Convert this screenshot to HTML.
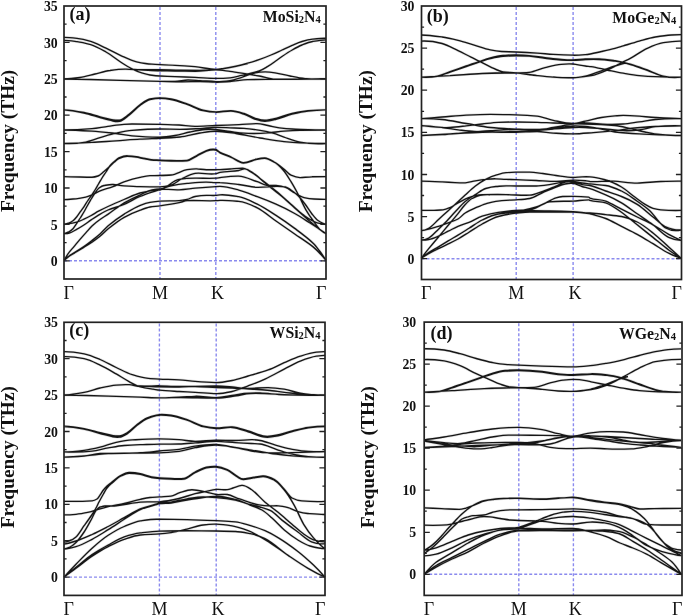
<!DOCTYPE html>
<html><head><meta charset="utf-8"><style>
html,body{margin:0;padding:0;background:#fff;}
svg{display:block;will-change:transform;}
text{font-family:"Liberation Serif",serif;fill:#111;opacity:0.999;}
.tl{font-weight:bold;font-size:13.8px;text-anchor:end;}
.xl{font-size:18px;}
.pl{font-weight:bold;font-size:18px;}
.ml{font-weight:bold;font-size:15.8px;}
.sub{font-size:10.5px;}
.yl{font-weight:bold;font-size:19.4px;}
</style></head><body>
<svg width="685" height="616" viewBox="0 0 685 616">
<rect width="685" height="616" fill="#fff"/>
<g>
<line x1="64" y1="260.8" x2="326" y2="260.8" stroke="#8a8aee" stroke-width="1.4" stroke-dasharray="3,2" fill="none"/>
<line x1="160" y1="6" x2="160" y2="279" stroke="#8a8aee" stroke-width="1.4" stroke-dasharray="3,2" fill="none" stroke-dashoffset="-1.1"/>
<line x1="215.8" y1="6" x2="215.8" y2="279" stroke="#8a8aee" stroke-width="1.4" stroke-dasharray="3,2" fill="none" stroke-dashoffset="-1.1"/>
<path d="M64.0,37.4C68.3,37.4 72.7,37.9 77.0,38.4C81.6,38.9 86.1,40.0 90.7,41.3C95.8,42.8 100.9,45.8 106.0,48.2C111.1,50.6 116.2,53.5 121.3,55.8C126.4,58.1 131.5,60.7 136.6,61.8C141.7,62.9 146.9,63.9 152.0,64.2C154.7,64.4 157.3,64.5 160.0,64.6C165.0,64.8 170.0,65.0 175.0,65.3C181.7,65.6 188.3,66.1 195.0,66.7C201.9,67.3 208.9,69.2 215.8,69.4C218.5,69.5 221.3,68.8 224.0,68.4C228.0,67.8 232.0,67.0 236.0,66.1C239.9,65.3 243.7,64.3 247.6,63.2C251.4,62.2 255.2,61.0 259.0,59.7C263.0,58.3 267.0,56.7 271.0,55.0C274.7,53.5 278.3,51.7 282.0,50.0C285.4,48.4 288.8,46.7 292.2,45.3C295.5,43.9 298.7,42.4 302.0,41.5C305.5,40.5 309.1,39.6 312.6,39.2C317.1,38.7 321.5,38.2 326.0,38.2 M64.0,40.4C68.3,40.5 72.7,41.1 77.0,41.6C81.6,42.1 86.1,43.3 90.7,44.6C95.8,46.1 100.9,49.1 106.0,52.0C111.1,54.9 116.2,59.2 121.3,62.5C124.7,64.7 128.1,66.9 131.5,68.6C134.9,70.3 138.3,71.9 141.7,72.9C144.5,73.8 147.2,74.6 150.0,75.0C153.3,75.4 156.7,75.8 160.0,76.0C165.0,76.2 170.0,76.4 175.0,76.6C181.7,76.9 188.3,77.1 195.0,77.4C201.9,77.7 208.9,78.2 215.8,78.4C220.5,78.6 225.3,78.2 230.0,77.8C233.9,77.5 237.8,76.2 241.7,75.4C244.5,74.8 247.2,74.2 250.0,73.5C253.1,72.8 256.1,72.0 259.2,71.0C261.9,70.1 264.7,68.3 267.4,66.7C269.9,65.2 272.5,63.3 275.0,61.5C277.3,59.9 279.7,58.1 282.0,56.5C285.4,54.2 288.8,51.9 292.2,50.0C295.5,48.1 298.7,46.3 302.0,45.0C305.5,43.6 309.1,42.1 312.6,41.5C317.1,40.7 321.5,39.9 326.0,39.8 M64.0,79.0C69.3,78.9 74.7,78.3 80.0,77.5C85.0,76.7 90.0,75.2 95.0,74.0C100.0,72.8 105.0,71.2 110.0,70.5C115.3,69.7 120.7,68.9 126.0,69.1C130.7,69.2 135.3,69.6 140.0,69.8C146.7,70.1 153.3,70.6 160.0,70.8C165.0,70.9 170.0,70.9 175.0,71.0C181.7,71.1 188.3,71.3 195.0,71.4C201.9,71.5 208.9,69.8 215.8,69.8C220.5,69.8 225.3,70.8 230.0,71.4C233.9,71.9 237.8,72.5 241.7,73.1C247.5,74.0 253.4,75.0 259.2,76.0C264.5,76.9 269.7,79.2 275.0,79.2C281.7,79.3 288.3,79.2 295.0,79.2C305.3,79.1 315.7,79.1 326.0,79.0 M110.0,70.5C115.3,69.7 120.7,69.0 126.0,69.1C130.7,69.2 135.3,69.6 140.0,69.6C146.7,69.7 153.3,69.5 160.0,69.6C166.7,69.7 173.3,70.1 180.0,70.2C186.7,70.3 193.3,70.3 200.0,70.3C205.3,70.3 210.5,69.9 215.8,69.6C218.5,69.4 221.3,69.1 224.0,68.7C228.0,68.1 232.0,67.3 236.0,66.4C239.9,65.6 243.7,64.6 247.6,63.6 M64.0,79.0C72.7,79.1 81.3,79.3 90.0,79.5C100.0,79.7 110.0,80.0 120.0,80.3C133.3,80.6 146.7,81.0 160.0,81.3C165.0,81.4 170.0,81.5 175.0,81.4C179.3,81.4 183.7,80.0 188.0,80.0C192.0,80.0 196.0,80.4 200.0,80.6C205.3,80.9 210.5,81.4 215.8,81.6C220.5,81.8 225.3,81.2 230.0,80.6C233.9,80.1 237.8,78.5 241.7,77.3C245.6,76.1 249.5,74.1 253.4,73.3C257.3,72.5 261.2,71.9 265.1,71.9C268.4,71.9 271.7,72.3 275.0,72.8C280.0,73.6 285.0,75.0 290.0,76.0C295.0,77.0 300.0,78.1 305.0,78.6C312.0,79.2 319.0,79.3 326.0,79.0 M160.0,81.3C166.7,81.5 173.3,81.7 180.0,81.8C186.7,81.9 193.3,81.5 200.0,81.5C205.3,81.5 210.5,82.1 215.8,82.2C220.5,82.3 225.3,81.8 230.0,81.5C235.9,81.1 241.7,79.7 247.6,79.6C256.7,79.4 265.9,79.4 275.0,79.3C292.0,79.2 309.0,79.0 326.0,79.0 M64.0,109.8C70.7,110.1 77.3,111.2 84.0,112.5C89.3,113.5 94.7,115.5 100.0,116.8C104.3,117.9 108.7,119.0 113.0,119.8C115.2,120.2 117.3,120.4 119.5,120.2C122.7,119.9 125.8,116.6 129.0,114.3C132.8,111.5 136.5,107.3 140.3,104.6C143.5,102.3 146.8,99.6 150.0,99.0C153.3,98.4 156.6,97.8 159.9,97.9C163.6,98.0 167.3,98.4 171.0,99.0C176.3,99.9 181.7,102.0 187.0,103.8C192.3,105.6 197.7,108.9 203.0,110.1C207.2,111.1 211.5,111.8 215.7,111.8C220.8,111.9 225.9,110.6 231.0,110.7C235.3,110.8 239.7,112.2 244.0,113.5C247.8,114.6 251.5,117.2 255.3,118.3C258.5,119.2 261.8,120.3 265.0,120.2C268.7,120.1 272.3,119.2 276.0,118.3C281.3,117.0 286.7,114.7 292.0,113.5C297.3,112.3 302.7,111.2 308.0,110.7C313.9,110.2 319.8,109.8 325.7,109.8 M64.0,110.2C70.7,110.5 77.3,111.7 84.0,113.0C89.3,114.1 94.7,116.1 100.0,117.6C104.3,118.8 108.7,120.1 113.0,121.0C115.2,121.5 117.3,121.7 119.5,121.4C122.7,121.0 125.8,117.6 129.0,115.2C132.8,112.3 136.5,108.0 140.3,105.3C143.5,103.0 146.8,100.3 150.0,99.6C153.3,98.9 156.6,98.3 159.9,98.4C163.6,98.5 167.3,98.9 171.0,99.5C176.3,100.4 181.7,102.5 187.0,104.3C192.3,106.1 197.7,109.5 203.0,110.6C207.2,111.5 211.5,112.1 215.7,112.2C220.8,112.3 225.9,111.1 231.0,111.2C235.3,111.3 239.7,112.8 244.0,114.2C247.8,115.4 251.5,118.1 255.3,119.3C258.5,120.3 261.8,121.4 265.0,121.3C268.7,121.2 272.3,120.2 276.0,119.3C281.3,118.0 286.7,115.5 292.0,114.2C297.3,112.9 302.7,111.6 308.0,111.1C313.9,110.5 319.8,110.1 325.7,110.2 M64.0,130.0C73.3,130.0 82.7,129.5 92.0,128.7C97.3,128.2 102.7,127.0 108.0,126.3C113.3,125.6 118.7,124.6 124.0,124.3C126.7,124.1 129.3,124.0 132.0,124.0C141.3,124.0 150.6,124.1 159.9,124.3C166.3,124.4 172.6,124.7 179.0,125.0C184.3,125.3 189.7,126.3 195.0,126.3C201.9,126.3 208.8,125.7 215.7,125.5C223.5,125.2 231.2,125.0 239.0,124.7C245.0,124.5 251.0,123.6 257.0,123.6C260.7,123.6 264.3,124.8 268.0,125.5C271.8,126.2 275.6,127.4 279.4,127.9C283.6,128.4 287.8,128.8 292.0,129.0C303.2,129.4 314.5,130.0 325.7,130.0 M64.0,143.5C70.7,143.8 77.3,143.6 84.0,142.4C89.3,141.5 94.7,139.1 100.0,137.6C105.3,136.1 110.7,134.4 116.0,133.2C121.3,132.0 126.7,130.7 132.0,130.3C141.3,129.6 150.6,129.0 159.9,129.0C166.6,129.0 173.3,129.3 180.0,129.3C186.7,129.3 193.3,128.9 200.0,128.6C205.2,128.3 210.5,127.3 215.7,127.3C220.5,127.3 225.2,127.6 230.0,127.8C234.7,128.0 239.3,128.1 244.0,128.4C249.3,128.7 254.7,129.5 260.0,130.3C264.3,130.9 268.7,132.0 273.0,133.2C276.7,134.2 280.3,135.9 284.0,137.1C289.3,138.9 294.7,141.2 300.0,142.2C308.6,143.7 317.1,144.0 325.7,143.5 M64.0,130.0C73.3,130.1 82.7,130.6 92.0,131.1C100.0,131.6 108.0,132.6 116.0,133.5C121.3,134.1 126.7,135.3 132.0,135.8C141.3,136.7 150.6,137.3 159.9,137.2C164.9,137.1 170.0,136.3 175.0,135.5C180.0,134.7 185.0,133.0 190.0,132.0C195.0,131.0 200.0,129.9 205.0,129.5C208.6,129.2 212.1,129.2 215.7,129.5C220.5,129.9 225.2,130.9 230.0,131.5C234.7,132.1 239.3,132.9 244.0,133.2C252.0,133.7 260.0,133.5 268.0,132.9C273.3,132.5 278.7,131.5 284.0,131.1C289.3,130.7 294.7,130.4 300.0,130.3C308.6,130.1 317.1,130.0 325.7,130.0 M64.0,143.5C73.3,143.3 82.7,142.9 92.0,142.4C100.0,142.0 108.0,141.3 116.0,140.8C124.0,140.3 132.0,139.6 140.0,139.2C146.6,138.8 153.3,138.7 159.9,138.4C166.6,138.1 173.3,137.7 180.0,137.0C186.7,136.3 193.3,134.0 200.0,133.0C205.2,132.2 210.5,131.2 215.7,131.2C222.5,131.2 229.2,132.5 236.0,133.5C244.0,134.7 252.0,136.7 260.0,138.0C268.0,139.3 276.0,140.8 284.0,141.6C289.3,142.2 294.7,142.7 300.0,142.9C308.6,143.2 317.1,143.5 325.7,143.5 M64.0,176.6C69.3,176.8 74.7,176.9 80.0,177.0C84.0,177.1 88.0,177.2 92.0,177.2C94.0,177.2 96.0,176.7 98.0,176.0C100.0,175.3 102.0,173.1 104.0,171.5C106.0,169.9 108.0,168.0 110.0,166.2C111.5,164.9 112.9,163.3 114.4,162.0C115.9,160.7 117.3,159.1 118.8,158.5C121.7,157.3 124.6,156.2 127.5,156.3C130.4,156.4 133.4,156.7 136.3,157.2C139.2,157.7 142.1,158.4 145.0,158.9C147.9,159.4 150.9,160.1 153.8,160.3C155.8,160.4 157.9,160.5 159.9,160.6C163.6,160.7 167.3,160.9 171.0,161.0C176.3,161.2 181.7,161.2 187.0,160.9C190.3,160.7 193.5,157.7 196.8,156.1C200.0,154.5 203.2,152.4 206.4,151.2C209.5,150.0 212.6,149.2 215.7,150.0C217.1,150.3 218.6,152.1 220.0,152.8C223.7,154.6 227.5,155.9 231.2,157.5C235.2,159.3 239.3,163.0 243.3,163.1C248.0,163.3 252.6,160.2 257.3,159.3C259.8,158.8 262.3,158.3 264.8,158.4C267.9,158.5 271.1,160.5 274.2,162.1C277.3,163.7 280.4,166.3 283.5,168.7C286.0,170.6 288.5,174.1 291.0,175.2C294.1,176.6 297.2,177.7 300.3,177.6C304.2,177.4 308.1,176.9 312.0,176.8C316.7,176.7 321.3,176.6 326.0,176.6 M64.0,224.2C65.8,224.1 67.5,223.4 69.3,222.8C70.5,222.4 71.8,221.6 73.0,220.7C74.2,219.8 75.4,218.5 76.6,217.0C77.8,215.5 79.0,213.6 80.2,211.9C81.4,210.2 82.7,208.6 83.9,206.8C85.1,205.0 86.3,202.8 87.5,201.0C88.7,199.1 90.0,197.6 91.2,195.8C92.5,193.9 93.7,192.0 95.0,190.0C96.2,188.1 97.3,186.0 98.5,184.0C99.7,182.0 100.8,179.9 102.0,178.0C103.3,175.9 104.7,174.0 106.0,172.0C107.3,170.0 108.7,167.3 110.0,165.7C111.5,163.9 112.9,162.8 114.4,161.5C115.9,160.2 117.3,158.6 118.8,158.0C121.7,156.8 124.6,155.7 127.5,155.8C130.4,155.9 133.4,156.2 136.3,156.7C139.2,157.2 142.1,157.9 145.0,158.4C147.9,158.9 150.9,159.6 153.8,159.8C155.8,159.9 157.9,160.0 159.9,160.1C163.6,160.2 167.3,160.4 171.0,160.5C176.3,160.7 181.7,160.6 187.0,160.3C190.3,160.1 193.5,157.1 196.8,155.5C200.0,153.9 203.2,151.8 206.4,150.6C209.5,149.4 212.6,148.7 215.7,149.5C217.1,149.9 218.6,151.6 220.0,152.3C223.7,154.1 227.5,155.4 231.2,157.0C235.2,158.8 239.3,162.4 243.3,162.6C248.0,162.8 252.6,159.6 257.3,158.8C259.8,158.3 262.3,158.0 264.8,158.0C267.9,158.1 271.1,160.2 274.2,162.0C277.3,163.7 280.4,167.0 283.5,170.5C286.0,173.3 288.5,177.6 291.0,181.7C293.5,185.7 295.9,190.2 298.4,194.8C300.9,199.5 303.4,205.5 305.9,209.8C308.4,214.1 310.9,217.6 313.4,221.0C315.9,224.3 318.3,228.2 320.8,230.3C322.5,231.8 324.3,233.2 326.0,233.6 M64.0,199.6C68.0,199.5 72.0,199.1 76.0,198.8C79.2,198.5 82.5,197.9 85.7,197.2C87.8,196.7 90.0,195.7 92.1,194.8C94.8,193.7 97.4,191.9 100.1,190.8C104.4,189.1 108.7,188.3 113.0,186.6C116.7,185.2 120.3,183.1 124.0,181.8C129.3,180.0 134.7,178.4 140.0,177.3C143.3,176.6 146.7,175.8 150.0,175.7C153.3,175.6 156.6,175.6 159.9,175.5C163.6,175.4 167.3,175.3 171.0,175.0C176.4,174.6 181.7,170.5 187.1,169.7C190.3,169.2 193.6,168.7 196.8,168.9C200.0,169.1 203.2,169.7 206.4,169.7C209.5,169.7 212.6,169.7 215.7,169.7C217.1,169.7 218.6,169.6 220.0,169.6C223.3,169.5 226.7,169.2 230.0,169.0C234.1,168.7 238.3,168.2 242.4,168.1C245.5,168.0 248.6,170.6 251.7,172.4C255.5,174.6 259.2,177.9 263.0,180.8C267.3,184.1 271.7,187.5 276.0,191.1C281.0,195.3 286.0,199.9 291.0,204.2C295.3,208.0 299.7,212.4 304.0,215.4C308.4,218.5 312.7,221.6 317.1,222.8C320.1,223.6 323.0,224.3 326.0,224.2 M64.0,233.6C65.8,233.4 67.5,232.4 69.3,231.6C70.5,231.0 71.8,230.0 73.0,228.7C74.2,227.5 75.4,225.4 76.6,223.6C77.8,221.8 79.0,219.9 80.2,218.0C81.4,216.0 82.7,214.1 83.9,212.0C85.1,209.9 86.3,207.6 87.5,205.5C88.7,203.3 90.0,201.1 91.2,199.0C92.5,196.9 93.7,194.8 95.0,193.0C96.3,191.1 97.7,189.0 99.0,188.0C100.7,186.8 102.3,185.8 104.0,185.5C107.0,185.0 110.0,184.3 113.0,184.5C116.7,184.8 120.3,185.6 124.0,185.8C129.3,186.1 134.7,186.4 140.0,186.6C146.6,186.8 153.3,186.9 159.9,186.9C163.6,186.9 167.3,186.2 171.0,185.2C174.8,184.2 178.5,180.3 182.3,178.5C186.6,176.4 190.8,174.0 195.1,173.4C202.0,172.4 208.8,174.9 215.7,173.7C217.1,173.4 218.6,172.7 220.0,172.4C226.2,171.2 232.5,171.5 238.7,170.5C240.6,170.2 242.4,169.1 244.3,168.9C247.4,168.6 250.5,171.3 253.6,173.3C257.3,175.7 261.1,179.6 264.8,182.7C269.8,186.8 274.8,190.6 279.8,194.8C284.8,199.0 289.7,203.5 294.7,207.9C299.7,212.3 304.6,216.8 309.6,221.0C313.3,224.2 317.1,227.6 320.8,230.3C322.5,231.6 324.3,232.7 326.0,233.6 M64.0,224.2C65.8,224.1 67.5,223.8 69.3,223.6C71.7,223.3 74.2,222.7 76.6,222.1C79.0,221.5 81.5,220.3 83.9,219.2C86.3,218.1 88.8,216.8 91.2,215.5C93.6,214.2 96.1,212.5 98.5,211.2C101.7,209.5 104.8,208.0 108.0,206.5C113.3,204.0 118.7,201.7 124.0,199.5C129.3,197.3 134.7,194.5 140.0,193.0C144.3,191.8 148.7,190.9 153.0,190.3C155.3,190.0 157.6,190.4 159.9,190.0C166.3,188.8 172.7,180.1 179.1,179.3C184.4,178.6 189.8,178.3 195.1,178.2C202.0,178.1 208.8,178.6 215.7,178.2C217.1,178.1 218.6,177.8 220.0,177.6C226.2,176.8 232.5,175.9 238.7,176.1C244.9,176.3 251.1,179.6 257.3,181.7C260.4,182.8 263.6,184.8 266.7,185.3C269.8,185.8 272.9,185.2 276.0,185.5C279.1,185.8 282.3,186.3 285.4,187.3C288.5,188.3 291.6,191.3 294.7,193.0C297.8,194.7 300.9,196.9 304.0,197.6C307.3,198.3 310.7,198.8 314.0,199.0C318.0,199.2 322.0,199.4 326.0,199.3 M64.0,233.6C65.8,233.7 67.5,233.6 69.3,233.1C71.7,232.4 74.2,230.7 76.6,229.4C79.0,228.1 81.5,226.6 83.9,225.0C86.3,223.4 88.8,221.5 91.2,219.9C93.6,218.3 96.1,216.6 98.5,215.2C101.7,213.3 104.8,211.4 108.0,210.0C113.3,207.7 118.7,206.8 124.0,204.5C129.3,202.2 134.7,198.7 140.0,196.5C145.3,194.3 150.7,192.6 156.0,190.8C157.3,190.4 158.6,189.9 159.9,189.5C163.6,188.3 167.3,186.6 171.0,185.8C176.4,184.6 181.7,183.9 187.1,183.4C193.5,182.8 200.0,182.0 206.4,182.1C209.5,182.2 212.6,182.5 215.7,182.6C217.1,182.7 218.6,182.6 220.0,182.7C226.2,183.0 232.5,183.8 238.7,184.5C244.9,185.2 251.1,187.2 257.3,187.3C263.5,187.4 269.8,186.6 276.0,186.4C279.1,186.3 282.3,186.5 285.4,186.8C287.3,187.0 289.1,188.8 291.0,190.0C293.5,191.6 295.9,193.6 298.4,196.0C300.6,198.1 302.8,201.1 305.0,204.0C307.3,207.1 309.7,211.1 312.0,214.0C314.0,216.5 316.0,219.2 318.0,220.5C320.7,222.3 323.3,223.9 326.0,224.2 M64.3,260.3C65.5,257.9 66.8,255.5 68.0,253.8C70.0,251.0 72.0,249.0 74.0,246.6C76.0,244.2 78.0,241.7 80.0,239.4C82.0,237.1 84.0,234.8 86.0,232.6C88.0,230.4 90.0,227.9 92.0,226.0C94.7,223.5 97.3,221.4 100.0,219.5C102.7,217.5 105.5,216.0 108.2,214.1C113.5,210.5 118.9,205.9 124.2,202.8C129.6,199.7 134.9,197.2 140.3,194.8C144.2,193.1 148.1,190.8 152.0,190.0C154.6,189.5 157.3,189.0 159.9,189.0C166.3,189.0 172.7,190.1 179.1,189.8C184.4,189.5 189.8,188.7 195.1,188.2C202.0,187.6 208.8,187.1 215.7,186.6C217.1,186.5 218.6,186.4 220.0,186.4C226.2,186.4 232.5,188.4 238.7,190.1C244.9,191.7 251.1,194.4 257.3,196.7C263.5,199.0 269.8,201.5 276.0,204.2C282.2,206.9 288.5,210.0 294.7,213.5C299.7,216.3 304.6,219.6 309.6,222.8C315.1,226.3 320.5,229.9 326.0,233.6 M64.3,260.3C65.5,259.0 66.8,257.7 68.0,256.8C70.0,255.3 72.0,254.2 74.0,252.9C76.0,251.6 78.0,250.3 80.0,249.0C82.0,247.7 84.0,246.4 86.0,245.0C88.0,243.6 90.0,242.1 92.0,240.5C94.7,238.4 97.3,236.4 100.0,234.0C102.7,231.6 105.5,228.1 108.2,225.8C113.5,221.3 118.9,217.4 124.2,214.1C129.6,210.8 134.9,207.4 140.3,205.3C143.5,204.0 146.8,202.8 150.0,202.3C153.3,201.8 156.6,201.4 159.9,201.2C166.3,200.8 172.7,201.1 179.1,200.7C181.8,200.5 184.4,200.0 187.1,199.4C189.8,198.8 192.4,196.9 195.1,196.5C198.9,195.9 202.6,195.5 206.4,195.4C209.5,195.3 212.6,195.6 215.7,195.4C217.1,195.3 218.6,194.9 220.0,194.8C226.2,194.3 232.5,195.6 238.7,196.7C244.9,197.8 251.1,201.2 257.3,204.2C263.5,207.2 269.8,211.4 276.0,215.4C282.2,219.4 288.5,223.8 294.7,228.4C300.9,233.0 307.2,237.5 313.4,243.4C315.6,245.5 317.8,248.6 320.0,251.5C322.0,254.2 324.0,257.2 326.0,260.3 M64.3,260.3C65.5,259.1 66.8,258.0 68.0,257.1C70.0,255.7 72.0,254.6 74.0,253.4C76.0,252.2 78.0,250.9 80.0,249.7C82.0,248.5 84.0,247.2 86.0,246.0C88.0,244.8 90.0,243.5 92.0,242.2C94.7,240.4 97.3,238.5 100.0,236.3C102.7,234.1 105.5,231.0 108.2,228.8C113.5,224.5 118.9,220.2 124.2,217.3C129.6,214.4 134.9,212.0 140.3,210.1C143.5,208.9 146.8,207.6 150.0,207.0C153.3,206.4 156.6,206.3 159.9,205.8C166.3,204.8 172.7,203.8 179.1,202.6C181.8,202.1 184.4,200.9 187.1,200.7C196.6,200.1 206.2,201.2 215.7,200.7C217.1,200.6 218.6,200.5 220.0,200.4C226.2,200.1 232.5,200.8 238.7,201.4C244.9,202.0 251.1,204.8 257.3,207.9C263.5,211.0 269.8,216.7 276.0,221.0C282.2,225.3 288.5,229.7 294.7,234.0C300.9,238.3 307.2,242.1 313.4,247.1C317.6,250.5 321.8,255.3 326.0,260.3" stroke="#000" stroke-opacity="0.13" stroke-width="2.60" fill="none" stroke-linejoin="round"/>
<path d="M64.0,37.4C68.3,37.4 72.7,37.9 77.0,38.4C81.6,38.9 86.1,40.0 90.7,41.3C95.8,42.8 100.9,45.8 106.0,48.2C111.1,50.6 116.2,53.5 121.3,55.8C126.4,58.1 131.5,60.7 136.6,61.8C141.7,62.9 146.9,63.9 152.0,64.2C154.7,64.4 157.3,64.5 160.0,64.6C165.0,64.8 170.0,65.0 175.0,65.3C181.7,65.6 188.3,66.1 195.0,66.7C201.9,67.3 208.9,69.2 215.8,69.4C218.5,69.5 221.3,68.8 224.0,68.4C228.0,67.8 232.0,67.0 236.0,66.1C239.9,65.3 243.7,64.3 247.6,63.2C251.4,62.2 255.2,61.0 259.0,59.7C263.0,58.3 267.0,56.7 271.0,55.0C274.7,53.5 278.3,51.7 282.0,50.0C285.4,48.4 288.8,46.7 292.2,45.3C295.5,43.9 298.7,42.4 302.0,41.5C305.5,40.5 309.1,39.6 312.6,39.2C317.1,38.7 321.5,38.2 326.0,38.2 M64.0,40.4C68.3,40.5 72.7,41.1 77.0,41.6C81.6,42.1 86.1,43.3 90.7,44.6C95.8,46.1 100.9,49.1 106.0,52.0C111.1,54.9 116.2,59.2 121.3,62.5C124.7,64.7 128.1,66.9 131.5,68.6C134.9,70.3 138.3,71.9 141.7,72.9C144.5,73.8 147.2,74.6 150.0,75.0C153.3,75.4 156.7,75.8 160.0,76.0C165.0,76.2 170.0,76.4 175.0,76.6C181.7,76.9 188.3,77.1 195.0,77.4C201.9,77.7 208.9,78.2 215.8,78.4C220.5,78.6 225.3,78.2 230.0,77.8C233.9,77.5 237.8,76.2 241.7,75.4C244.5,74.8 247.2,74.2 250.0,73.5C253.1,72.8 256.1,72.0 259.2,71.0C261.9,70.1 264.7,68.3 267.4,66.7C269.9,65.2 272.5,63.3 275.0,61.5C277.3,59.9 279.7,58.1 282.0,56.5C285.4,54.2 288.8,51.9 292.2,50.0C295.5,48.1 298.7,46.3 302.0,45.0C305.5,43.6 309.1,42.1 312.6,41.5C317.1,40.7 321.5,39.9 326.0,39.8 M64.0,79.0C69.3,78.9 74.7,78.3 80.0,77.5C85.0,76.7 90.0,75.2 95.0,74.0C100.0,72.8 105.0,71.2 110.0,70.5C115.3,69.7 120.7,68.9 126.0,69.1C130.7,69.2 135.3,69.6 140.0,69.8C146.7,70.1 153.3,70.6 160.0,70.8C165.0,70.9 170.0,70.9 175.0,71.0C181.7,71.1 188.3,71.3 195.0,71.4C201.9,71.5 208.9,69.8 215.8,69.8C220.5,69.8 225.3,70.8 230.0,71.4C233.9,71.9 237.8,72.5 241.7,73.1C247.5,74.0 253.4,75.0 259.2,76.0C264.5,76.9 269.7,79.2 275.0,79.2C281.7,79.3 288.3,79.2 295.0,79.2C305.3,79.1 315.7,79.1 326.0,79.0 M110.0,70.5C115.3,69.7 120.7,69.0 126.0,69.1C130.7,69.2 135.3,69.6 140.0,69.6C146.7,69.7 153.3,69.5 160.0,69.6C166.7,69.7 173.3,70.1 180.0,70.2C186.7,70.3 193.3,70.3 200.0,70.3C205.3,70.3 210.5,69.9 215.8,69.6C218.5,69.4 221.3,69.1 224.0,68.7C228.0,68.1 232.0,67.3 236.0,66.4C239.9,65.6 243.7,64.6 247.6,63.6 M64.0,79.0C72.7,79.1 81.3,79.3 90.0,79.5C100.0,79.7 110.0,80.0 120.0,80.3C133.3,80.6 146.7,81.0 160.0,81.3C165.0,81.4 170.0,81.5 175.0,81.4C179.3,81.4 183.7,80.0 188.0,80.0C192.0,80.0 196.0,80.4 200.0,80.6C205.3,80.9 210.5,81.4 215.8,81.6C220.5,81.8 225.3,81.2 230.0,80.6C233.9,80.1 237.8,78.5 241.7,77.3C245.6,76.1 249.5,74.1 253.4,73.3C257.3,72.5 261.2,71.9 265.1,71.9C268.4,71.9 271.7,72.3 275.0,72.8C280.0,73.6 285.0,75.0 290.0,76.0C295.0,77.0 300.0,78.1 305.0,78.6C312.0,79.2 319.0,79.3 326.0,79.0 M160.0,81.3C166.7,81.5 173.3,81.7 180.0,81.8C186.7,81.9 193.3,81.5 200.0,81.5C205.3,81.5 210.5,82.1 215.8,82.2C220.5,82.3 225.3,81.8 230.0,81.5C235.9,81.1 241.7,79.7 247.6,79.6C256.7,79.4 265.9,79.4 275.0,79.3C292.0,79.2 309.0,79.0 326.0,79.0 M64.0,109.8C70.7,110.1 77.3,111.2 84.0,112.5C89.3,113.5 94.7,115.5 100.0,116.8C104.3,117.9 108.7,119.0 113.0,119.8C115.2,120.2 117.3,120.4 119.5,120.2C122.7,119.9 125.8,116.6 129.0,114.3C132.8,111.5 136.5,107.3 140.3,104.6C143.5,102.3 146.8,99.6 150.0,99.0C153.3,98.4 156.6,97.8 159.9,97.9C163.6,98.0 167.3,98.4 171.0,99.0C176.3,99.9 181.7,102.0 187.0,103.8C192.3,105.6 197.7,108.9 203.0,110.1C207.2,111.1 211.5,111.8 215.7,111.8C220.8,111.9 225.9,110.6 231.0,110.7C235.3,110.8 239.7,112.2 244.0,113.5C247.8,114.6 251.5,117.2 255.3,118.3C258.5,119.2 261.8,120.3 265.0,120.2C268.7,120.1 272.3,119.2 276.0,118.3C281.3,117.0 286.7,114.7 292.0,113.5C297.3,112.3 302.7,111.2 308.0,110.7C313.9,110.2 319.8,109.8 325.7,109.8 M64.0,110.2C70.7,110.5 77.3,111.7 84.0,113.0C89.3,114.1 94.7,116.1 100.0,117.6C104.3,118.8 108.7,120.1 113.0,121.0C115.2,121.5 117.3,121.7 119.5,121.4C122.7,121.0 125.8,117.6 129.0,115.2C132.8,112.3 136.5,108.0 140.3,105.3C143.5,103.0 146.8,100.3 150.0,99.6C153.3,98.9 156.6,98.3 159.9,98.4C163.6,98.5 167.3,98.9 171.0,99.5C176.3,100.4 181.7,102.5 187.0,104.3C192.3,106.1 197.7,109.5 203.0,110.6C207.2,111.5 211.5,112.1 215.7,112.2C220.8,112.3 225.9,111.1 231.0,111.2C235.3,111.3 239.7,112.8 244.0,114.2C247.8,115.4 251.5,118.1 255.3,119.3C258.5,120.3 261.8,121.4 265.0,121.3C268.7,121.2 272.3,120.2 276.0,119.3C281.3,118.0 286.7,115.5 292.0,114.2C297.3,112.9 302.7,111.6 308.0,111.1C313.9,110.5 319.8,110.1 325.7,110.2 M64.0,130.0C73.3,130.0 82.7,129.5 92.0,128.7C97.3,128.2 102.7,127.0 108.0,126.3C113.3,125.6 118.7,124.6 124.0,124.3C126.7,124.1 129.3,124.0 132.0,124.0C141.3,124.0 150.6,124.1 159.9,124.3C166.3,124.4 172.6,124.7 179.0,125.0C184.3,125.3 189.7,126.3 195.0,126.3C201.9,126.3 208.8,125.7 215.7,125.5C223.5,125.2 231.2,125.0 239.0,124.7C245.0,124.5 251.0,123.6 257.0,123.6C260.7,123.6 264.3,124.8 268.0,125.5C271.8,126.2 275.6,127.4 279.4,127.9C283.6,128.4 287.8,128.8 292.0,129.0C303.2,129.4 314.5,130.0 325.7,130.0 M64.0,143.5C70.7,143.8 77.3,143.6 84.0,142.4C89.3,141.5 94.7,139.1 100.0,137.6C105.3,136.1 110.7,134.4 116.0,133.2C121.3,132.0 126.7,130.7 132.0,130.3C141.3,129.6 150.6,129.0 159.9,129.0C166.6,129.0 173.3,129.3 180.0,129.3C186.7,129.3 193.3,128.9 200.0,128.6C205.2,128.3 210.5,127.3 215.7,127.3C220.5,127.3 225.2,127.6 230.0,127.8C234.7,128.0 239.3,128.1 244.0,128.4C249.3,128.7 254.7,129.5 260.0,130.3C264.3,130.9 268.7,132.0 273.0,133.2C276.7,134.2 280.3,135.9 284.0,137.1C289.3,138.9 294.7,141.2 300.0,142.2C308.6,143.7 317.1,144.0 325.7,143.5 M64.0,130.0C73.3,130.1 82.7,130.6 92.0,131.1C100.0,131.6 108.0,132.6 116.0,133.5C121.3,134.1 126.7,135.3 132.0,135.8C141.3,136.7 150.6,137.3 159.9,137.2C164.9,137.1 170.0,136.3 175.0,135.5C180.0,134.7 185.0,133.0 190.0,132.0C195.0,131.0 200.0,129.9 205.0,129.5C208.6,129.2 212.1,129.2 215.7,129.5C220.5,129.9 225.2,130.9 230.0,131.5C234.7,132.1 239.3,132.9 244.0,133.2C252.0,133.7 260.0,133.5 268.0,132.9C273.3,132.5 278.7,131.5 284.0,131.1C289.3,130.7 294.7,130.4 300.0,130.3C308.6,130.1 317.1,130.0 325.7,130.0 M64.0,143.5C73.3,143.3 82.7,142.9 92.0,142.4C100.0,142.0 108.0,141.3 116.0,140.8C124.0,140.3 132.0,139.6 140.0,139.2C146.6,138.8 153.3,138.7 159.9,138.4C166.6,138.1 173.3,137.7 180.0,137.0C186.7,136.3 193.3,134.0 200.0,133.0C205.2,132.2 210.5,131.2 215.7,131.2C222.5,131.2 229.2,132.5 236.0,133.5C244.0,134.7 252.0,136.7 260.0,138.0C268.0,139.3 276.0,140.8 284.0,141.6C289.3,142.2 294.7,142.7 300.0,142.9C308.6,143.2 317.1,143.5 325.7,143.5 M64.0,176.6C69.3,176.8 74.7,176.9 80.0,177.0C84.0,177.1 88.0,177.2 92.0,177.2C94.0,177.2 96.0,176.7 98.0,176.0C100.0,175.3 102.0,173.1 104.0,171.5C106.0,169.9 108.0,168.0 110.0,166.2C111.5,164.9 112.9,163.3 114.4,162.0C115.9,160.7 117.3,159.1 118.8,158.5C121.7,157.3 124.6,156.2 127.5,156.3C130.4,156.4 133.4,156.7 136.3,157.2C139.2,157.7 142.1,158.4 145.0,158.9C147.9,159.4 150.9,160.1 153.8,160.3C155.8,160.4 157.9,160.5 159.9,160.6C163.6,160.7 167.3,160.9 171.0,161.0C176.3,161.2 181.7,161.2 187.0,160.9C190.3,160.7 193.5,157.7 196.8,156.1C200.0,154.5 203.2,152.4 206.4,151.2C209.5,150.0 212.6,149.2 215.7,150.0C217.1,150.3 218.6,152.1 220.0,152.8C223.7,154.6 227.5,155.9 231.2,157.5C235.2,159.3 239.3,163.0 243.3,163.1C248.0,163.3 252.6,160.2 257.3,159.3C259.8,158.8 262.3,158.3 264.8,158.4C267.9,158.5 271.1,160.5 274.2,162.1C277.3,163.7 280.4,166.3 283.5,168.7C286.0,170.6 288.5,174.1 291.0,175.2C294.1,176.6 297.2,177.7 300.3,177.6C304.2,177.4 308.1,176.9 312.0,176.8C316.7,176.7 321.3,176.6 326.0,176.6 M64.0,224.2C65.8,224.1 67.5,223.4 69.3,222.8C70.5,222.4 71.8,221.6 73.0,220.7C74.2,219.8 75.4,218.5 76.6,217.0C77.8,215.5 79.0,213.6 80.2,211.9C81.4,210.2 82.7,208.6 83.9,206.8C85.1,205.0 86.3,202.8 87.5,201.0C88.7,199.1 90.0,197.6 91.2,195.8C92.5,193.9 93.7,192.0 95.0,190.0C96.2,188.1 97.3,186.0 98.5,184.0C99.7,182.0 100.8,179.9 102.0,178.0C103.3,175.9 104.7,174.0 106.0,172.0C107.3,170.0 108.7,167.3 110.0,165.7C111.5,163.9 112.9,162.8 114.4,161.5C115.9,160.2 117.3,158.6 118.8,158.0C121.7,156.8 124.6,155.7 127.5,155.8C130.4,155.9 133.4,156.2 136.3,156.7C139.2,157.2 142.1,157.9 145.0,158.4C147.9,158.9 150.9,159.6 153.8,159.8C155.8,159.9 157.9,160.0 159.9,160.1C163.6,160.2 167.3,160.4 171.0,160.5C176.3,160.7 181.7,160.6 187.0,160.3C190.3,160.1 193.5,157.1 196.8,155.5C200.0,153.9 203.2,151.8 206.4,150.6C209.5,149.4 212.6,148.7 215.7,149.5C217.1,149.9 218.6,151.6 220.0,152.3C223.7,154.1 227.5,155.4 231.2,157.0C235.2,158.8 239.3,162.4 243.3,162.6C248.0,162.8 252.6,159.6 257.3,158.8C259.8,158.3 262.3,158.0 264.8,158.0C267.9,158.1 271.1,160.2 274.2,162.0C277.3,163.7 280.4,167.0 283.5,170.5C286.0,173.3 288.5,177.6 291.0,181.7C293.5,185.7 295.9,190.2 298.4,194.8C300.9,199.5 303.4,205.5 305.9,209.8C308.4,214.1 310.9,217.6 313.4,221.0C315.9,224.3 318.3,228.2 320.8,230.3C322.5,231.8 324.3,233.2 326.0,233.6 M64.0,199.6C68.0,199.5 72.0,199.1 76.0,198.8C79.2,198.5 82.5,197.9 85.7,197.2C87.8,196.7 90.0,195.7 92.1,194.8C94.8,193.7 97.4,191.9 100.1,190.8C104.4,189.1 108.7,188.3 113.0,186.6C116.7,185.2 120.3,183.1 124.0,181.8C129.3,180.0 134.7,178.4 140.0,177.3C143.3,176.6 146.7,175.8 150.0,175.7C153.3,175.6 156.6,175.6 159.9,175.5C163.6,175.4 167.3,175.3 171.0,175.0C176.4,174.6 181.7,170.5 187.1,169.7C190.3,169.2 193.6,168.7 196.8,168.9C200.0,169.1 203.2,169.7 206.4,169.7C209.5,169.7 212.6,169.7 215.7,169.7C217.1,169.7 218.6,169.6 220.0,169.6C223.3,169.5 226.7,169.2 230.0,169.0C234.1,168.7 238.3,168.2 242.4,168.1C245.5,168.0 248.6,170.6 251.7,172.4C255.5,174.6 259.2,177.9 263.0,180.8C267.3,184.1 271.7,187.5 276.0,191.1C281.0,195.3 286.0,199.9 291.0,204.2C295.3,208.0 299.7,212.4 304.0,215.4C308.4,218.5 312.7,221.6 317.1,222.8C320.1,223.6 323.0,224.3 326.0,224.2 M64.0,233.6C65.8,233.4 67.5,232.4 69.3,231.6C70.5,231.0 71.8,230.0 73.0,228.7C74.2,227.5 75.4,225.4 76.6,223.6C77.8,221.8 79.0,219.9 80.2,218.0C81.4,216.0 82.7,214.1 83.9,212.0C85.1,209.9 86.3,207.6 87.5,205.5C88.7,203.3 90.0,201.1 91.2,199.0C92.5,196.9 93.7,194.8 95.0,193.0C96.3,191.1 97.7,189.0 99.0,188.0C100.7,186.8 102.3,185.8 104.0,185.5C107.0,185.0 110.0,184.3 113.0,184.5C116.7,184.8 120.3,185.6 124.0,185.8C129.3,186.1 134.7,186.4 140.0,186.6C146.6,186.8 153.3,186.9 159.9,186.9C163.6,186.9 167.3,186.2 171.0,185.2C174.8,184.2 178.5,180.3 182.3,178.5C186.6,176.4 190.8,174.0 195.1,173.4C202.0,172.4 208.8,174.9 215.7,173.7C217.1,173.4 218.6,172.7 220.0,172.4C226.2,171.2 232.5,171.5 238.7,170.5C240.6,170.2 242.4,169.1 244.3,168.9C247.4,168.6 250.5,171.3 253.6,173.3C257.3,175.7 261.1,179.6 264.8,182.7C269.8,186.8 274.8,190.6 279.8,194.8C284.8,199.0 289.7,203.5 294.7,207.9C299.7,212.3 304.6,216.8 309.6,221.0C313.3,224.2 317.1,227.6 320.8,230.3C322.5,231.6 324.3,232.7 326.0,233.6 M64.0,224.2C65.8,224.1 67.5,223.8 69.3,223.6C71.7,223.3 74.2,222.7 76.6,222.1C79.0,221.5 81.5,220.3 83.9,219.2C86.3,218.1 88.8,216.8 91.2,215.5C93.6,214.2 96.1,212.5 98.5,211.2C101.7,209.5 104.8,208.0 108.0,206.5C113.3,204.0 118.7,201.7 124.0,199.5C129.3,197.3 134.7,194.5 140.0,193.0C144.3,191.8 148.7,190.9 153.0,190.3C155.3,190.0 157.6,190.4 159.9,190.0C166.3,188.8 172.7,180.1 179.1,179.3C184.4,178.6 189.8,178.3 195.1,178.2C202.0,178.1 208.8,178.6 215.7,178.2C217.1,178.1 218.6,177.8 220.0,177.6C226.2,176.8 232.5,175.9 238.7,176.1C244.9,176.3 251.1,179.6 257.3,181.7C260.4,182.8 263.6,184.8 266.7,185.3C269.8,185.8 272.9,185.2 276.0,185.5C279.1,185.8 282.3,186.3 285.4,187.3C288.5,188.3 291.6,191.3 294.7,193.0C297.8,194.7 300.9,196.9 304.0,197.6C307.3,198.3 310.7,198.8 314.0,199.0C318.0,199.2 322.0,199.4 326.0,199.3 M64.0,233.6C65.8,233.7 67.5,233.6 69.3,233.1C71.7,232.4 74.2,230.7 76.6,229.4C79.0,228.1 81.5,226.6 83.9,225.0C86.3,223.4 88.8,221.5 91.2,219.9C93.6,218.3 96.1,216.6 98.5,215.2C101.7,213.3 104.8,211.4 108.0,210.0C113.3,207.7 118.7,206.8 124.0,204.5C129.3,202.2 134.7,198.7 140.0,196.5C145.3,194.3 150.7,192.6 156.0,190.8C157.3,190.4 158.6,189.9 159.9,189.5C163.6,188.3 167.3,186.6 171.0,185.8C176.4,184.6 181.7,183.9 187.1,183.4C193.5,182.8 200.0,182.0 206.4,182.1C209.5,182.2 212.6,182.5 215.7,182.6C217.1,182.7 218.6,182.6 220.0,182.7C226.2,183.0 232.5,183.8 238.7,184.5C244.9,185.2 251.1,187.2 257.3,187.3C263.5,187.4 269.8,186.6 276.0,186.4C279.1,186.3 282.3,186.5 285.4,186.8C287.3,187.0 289.1,188.8 291.0,190.0C293.5,191.6 295.9,193.6 298.4,196.0C300.6,198.1 302.8,201.1 305.0,204.0C307.3,207.1 309.7,211.1 312.0,214.0C314.0,216.5 316.0,219.2 318.0,220.5C320.7,222.3 323.3,223.9 326.0,224.2 M64.3,260.3C65.5,257.9 66.8,255.5 68.0,253.8C70.0,251.0 72.0,249.0 74.0,246.6C76.0,244.2 78.0,241.7 80.0,239.4C82.0,237.1 84.0,234.8 86.0,232.6C88.0,230.4 90.0,227.9 92.0,226.0C94.7,223.5 97.3,221.4 100.0,219.5C102.7,217.5 105.5,216.0 108.2,214.1C113.5,210.5 118.9,205.9 124.2,202.8C129.6,199.7 134.9,197.2 140.3,194.8C144.2,193.1 148.1,190.8 152.0,190.0C154.6,189.5 157.3,189.0 159.9,189.0C166.3,189.0 172.7,190.1 179.1,189.8C184.4,189.5 189.8,188.7 195.1,188.2C202.0,187.6 208.8,187.1 215.7,186.6C217.1,186.5 218.6,186.4 220.0,186.4C226.2,186.4 232.5,188.4 238.7,190.1C244.9,191.7 251.1,194.4 257.3,196.7C263.5,199.0 269.8,201.5 276.0,204.2C282.2,206.9 288.5,210.0 294.7,213.5C299.7,216.3 304.6,219.6 309.6,222.8C315.1,226.3 320.5,229.9 326.0,233.6 M64.3,260.3C65.5,259.0 66.8,257.7 68.0,256.8C70.0,255.3 72.0,254.2 74.0,252.9C76.0,251.6 78.0,250.3 80.0,249.0C82.0,247.7 84.0,246.4 86.0,245.0C88.0,243.6 90.0,242.1 92.0,240.5C94.7,238.4 97.3,236.4 100.0,234.0C102.7,231.6 105.5,228.1 108.2,225.8C113.5,221.3 118.9,217.4 124.2,214.1C129.6,210.8 134.9,207.4 140.3,205.3C143.5,204.0 146.8,202.8 150.0,202.3C153.3,201.8 156.6,201.4 159.9,201.2C166.3,200.8 172.7,201.1 179.1,200.7C181.8,200.5 184.4,200.0 187.1,199.4C189.8,198.8 192.4,196.9 195.1,196.5C198.9,195.9 202.6,195.5 206.4,195.4C209.5,195.3 212.6,195.6 215.7,195.4C217.1,195.3 218.6,194.9 220.0,194.8C226.2,194.3 232.5,195.6 238.7,196.7C244.9,197.8 251.1,201.2 257.3,204.2C263.5,207.2 269.8,211.4 276.0,215.4C282.2,219.4 288.5,223.8 294.7,228.4C300.9,233.0 307.2,237.5 313.4,243.4C315.6,245.5 317.8,248.6 320.0,251.5C322.0,254.2 324.0,257.2 326.0,260.3 M64.3,260.3C65.5,259.1 66.8,258.0 68.0,257.1C70.0,255.7 72.0,254.6 74.0,253.4C76.0,252.2 78.0,250.9 80.0,249.7C82.0,248.5 84.0,247.2 86.0,246.0C88.0,244.8 90.0,243.5 92.0,242.2C94.7,240.4 97.3,238.5 100.0,236.3C102.7,234.1 105.5,231.0 108.2,228.8C113.5,224.5 118.9,220.2 124.2,217.3C129.6,214.4 134.9,212.0 140.3,210.1C143.5,208.9 146.8,207.6 150.0,207.0C153.3,206.4 156.6,206.3 159.9,205.8C166.3,204.8 172.7,203.8 179.1,202.6C181.8,202.1 184.4,200.9 187.1,200.7C196.6,200.1 206.2,201.2 215.7,200.7C217.1,200.6 218.6,200.5 220.0,200.4C226.2,200.1 232.5,200.8 238.7,201.4C244.9,202.0 251.1,204.8 257.3,207.9C263.5,211.0 269.8,216.7 276.0,221.0C282.2,225.3 288.5,229.7 294.7,234.0C300.9,238.3 307.2,242.1 313.4,247.1C317.6,250.5 321.8,255.3 326.0,260.3" stroke="#161616" stroke-width="1.35" fill="none" stroke-linejoin="round"/>
<path d="M64,260.8h5.6M326,260.8h-5.6M64,242.6h2.6M326,242.6h-2.6M64,224.4h5.6M326,224.4h-5.6M64,206.2h2.6M326,206.2h-2.6M64,188.0h5.6M326,188.0h-5.6M64,169.8h2.6M326,169.8h-2.6M64,151.6h5.6M326,151.6h-5.6M64,133.4h2.6M326,133.4h-2.6M64,115.2h5.6M326,115.2h-5.6M64,97.0h2.6M326,97.0h-2.6M64,78.8h5.6M326,78.8h-5.6M64,60.6h2.6M326,60.6h-2.6M64,42.4h5.6M326,42.4h-5.6M64,24.2h2.6M326,24.2h-2.6" stroke="#222" stroke-width="1.3" fill="none"/>
<rect x="64" y="6" width="262" height="273" stroke="#222" stroke-width="1.7" fill="none"/>
<text transform="translate(57.7,265.9) scale(1,1.12)" class="tl">0</text>
<text transform="translate(57.7,229.5) scale(1,1.12)" class="tl">5</text>
<text transform="translate(57.7,193.1) scale(1,1.12)" class="tl">10</text>
<text transform="translate(57.7,156.7) scale(1,1.12)" class="tl">15</text>
<text transform="translate(57.7,120.3) scale(1,1.12)" class="tl">20</text>
<text transform="translate(57.7,83.9) scale(1,1.12)" class="tl">25</text>
<text transform="translate(57.7,47.5) scale(1,1.12)" class="tl">30</text>
<text transform="translate(57.7,11.1) scale(1,1.12)" class="tl">35</text>
<text x="63.5" y="298.6" class="xl">Γ</text>
<text x="160" y="298.6" class="xl" text-anchor="middle">M</text>
<text x="217.60000000000002" y="298.6" class="xl" text-anchor="middle">K</text>
<text x="326.5" y="298.6" class="xl" text-anchor="end">Γ</text>
<text x="69.5" y="20.1" class="pl">(a)</text>
<text x="320.7" y="22" class="ml" text-anchor="end">MoSi<tspan class="sub" dy="1">2</tspan><tspan dy="-1">N</tspan><tspan class="sub" dy="1">4</tspan></text>
<text class="yl" transform="translate(14.4,140.9) rotate(-90) scale(1.0,1)" text-anchor="middle">Frequency (THz)</text>
<line x1="421.5" y1="258.7" x2="681.5" y2="258.7" stroke="#8a8aee" stroke-width="1.4" stroke-dasharray="3,2" fill="none"/>
<line x1="516.2" y1="6" x2="516.2" y2="279.5" stroke="#8a8aee" stroke-width="1.4" stroke-dasharray="3,2" fill="none" stroke-dashoffset="-1.1"/>
<line x1="573.1" y1="6" x2="573.1" y2="279.5" stroke="#8a8aee" stroke-width="1.4" stroke-dasharray="3,2" fill="none" stroke-dashoffset="-1.1"/>
<path d="M421.5,35.0C428.4,35.2 435.2,36.1 442.1,37.0C447.4,37.7 452.8,39.0 458.1,40.3C463.5,41.6 468.8,43.5 474.2,45.1C479.6,46.7 484.9,48.8 490.3,49.9C494.0,50.7 497.8,51.3 501.5,51.5C506.3,51.7 511.2,51.8 516.0,52.0C523.0,52.3 530.1,52.7 537.1,53.1C542.5,53.4 547.8,54.1 553.2,54.4C559.8,54.8 566.3,55.1 572.9,55.2C577.0,55.3 581.2,55.0 585.3,54.7C590.7,54.3 596.0,52.7 601.4,51.5C605.9,50.5 610.5,49.5 615.0,48.3C617.7,47.6 620.5,46.7 623.2,45.9C628.5,44.3 633.9,42.6 639.2,41.1C644.6,39.6 649.9,37.9 655.3,37.0C660.7,36.1 666.0,35.3 671.4,35.0C674.6,34.8 677.8,34.6 681.0,34.6 M421.5,41.1C428.4,40.8 435.2,41.7 442.1,43.5C447.4,44.9 452.8,48.2 458.1,50.7C462.4,52.7 466.7,55.0 471.0,57.1C473.7,58.4 476.3,59.8 479.0,61.1C482.8,63.0 486.5,65.1 490.3,66.8C494.6,68.7 498.8,71.3 503.1,71.9C507.4,72.5 511.7,72.4 516.0,72.9C523.0,73.7 530.1,74.8 537.1,75.6C542.5,76.2 547.8,76.8 553.2,77.2C559.8,77.6 566.3,77.7 572.9,77.7C579.0,77.7 585.0,76.6 591.1,75.6C596.4,74.7 601.8,72.3 607.1,70.0C611.4,68.2 615.7,65.7 620.0,63.5C623.7,61.6 627.5,59.9 631.2,57.9C636.6,55.0 641.9,50.7 647.3,48.3C652.6,45.9 658.0,43.6 663.3,42.7C669.2,41.7 675.1,40.9 681.0,41.1 M421.5,77.2C426.8,77.5 432.0,77.2 437.3,76.1C441.6,75.2 445.8,73.1 450.1,71.6C455.5,69.7 460.8,67.9 466.2,66.0C470.5,64.5 474.7,63.0 479.0,61.6C482.8,60.3 486.5,58.8 490.3,57.9C494.6,56.8 498.8,55.8 503.1,55.5C507.4,55.2 511.7,54.8 516.0,54.9C520.4,55.0 524.7,55.2 529.1,55.6C534.4,56.1 539.8,57.0 545.1,57.6C550.5,58.2 555.8,58.9 561.2,59.3C565.1,59.6 569.0,59.9 572.9,59.8C577.0,59.7 581.2,59.2 585.3,59.0C589.9,58.8 594.5,58.8 599.1,58.9C604.4,59.0 609.8,59.9 615.1,60.7C620.5,61.5 625.8,62.8 631.2,64.3C636.6,65.8 641.9,68.0 647.3,70.0C652.6,72.0 658.0,74.9 663.3,76.1C669.2,77.4 675.1,77.6 681.0,77.2 M421.5,77.2C426.8,77.5 432.0,77.4 437.3,76.3C441.6,75.4 445.8,73.4 450.1,72.0C455.5,70.2 460.8,68.3 466.2,66.5C470.5,65.1 474.7,63.6 479.0,62.2C482.8,61.0 486.5,59.5 490.3,58.6C494.6,57.6 498.8,56.6 503.1,56.3C507.4,56.0 511.7,55.7 516.0,55.7C520.4,55.7 524.7,55.9 529.1,56.2C534.4,56.6 539.8,57.7 545.1,58.3C550.5,58.9 555.8,59.6 561.2,60.0C565.1,60.3 569.0,60.5 572.9,60.4C577.0,60.3 581.2,59.8 585.3,59.6C589.9,59.4 594.5,59.4 599.1,59.5C604.4,59.6 609.8,60.5 615.1,61.2C620.5,61.9 625.8,63.3 631.2,64.8C636.6,66.3 641.9,68.5 647.3,70.4C652.6,72.3 658.0,75.1 663.3,76.3C669.2,77.6 675.1,77.7 681.0,77.2 M421.5,77.2C431.0,76.7 440.6,76.2 450.1,75.6C460.8,75.0 471.5,73.9 482.2,73.5C493.5,73.1 504.7,73.1 516.0,72.9C520.4,72.8 524.7,72.7 529.1,72.4C534.4,72.0 539.8,68.9 545.1,67.6C550.5,66.3 555.8,64.8 561.2,64.3C565.1,63.9 569.0,63.7 572.9,64.0C577.0,64.4 581.2,65.5 585.3,66.0C587.2,66.3 589.2,66.3 591.1,66.6C596.4,67.4 601.8,68.9 607.1,70.0C612.5,71.1 617.8,72.3 623.2,73.2C628.5,74.1 633.9,75.1 639.2,75.6C644.6,76.1 649.9,76.5 655.3,76.7C663.9,77.0 672.4,77.2 681.0,77.2 M450.1,75.6C460.8,75.0 471.5,74.1 482.2,73.5C493.5,72.9 504.7,72.5 516.0,72.9C523.0,73.2 530.1,74.8 537.1,75.6M553.2,77.2C559.8,77.7 566.3,77.8 572.9,77.7C577.0,77.7 581.2,76.9 585.3,76.1C590.7,75.0 596.0,72.6 601.4,70.8C605.9,69.3 610.5,67.4 615.0,66.0C618.3,65.0 621.7,64.0 625.0,63.2 M421.5,118.7C428.4,118.1 435.2,117.6 442.1,117.0C450.1,116.4 458.2,115.5 466.2,115.1C474.2,114.7 482.3,114.3 490.3,114.3C498.9,114.3 507.4,114.6 516.0,114.8C523.0,115.0 530.1,115.4 537.1,116.2C542.5,116.8 547.8,119.2 553.2,120.3C559.8,121.7 566.3,123.7 572.9,123.5C577.0,123.4 581.2,122.0 585.3,121.1C590.7,120.0 596.0,118.3 601.4,117.5C605.9,116.8 610.5,116.3 615.0,115.9C617.7,115.7 620.5,115.4 623.2,115.4C628.5,115.4 633.9,115.8 639.2,116.2C644.6,116.6 649.9,117.2 655.3,117.5C663.9,118.0 672.4,118.5 681.0,118.7 M421.5,118.7C428.4,118.6 435.2,118.8 442.1,119.5C450.1,120.3 458.2,122.2 466.2,123.5C474.2,124.8 482.3,126.7 490.3,127.5C498.9,128.3 507.4,128.7 516.0,129.1C523.0,129.5 530.1,130.0 537.1,129.9C542.5,129.8 547.8,128.4 553.2,127.5C559.8,126.4 566.3,124.9 572.9,124.0C577.0,123.4 581.2,122.7 585.3,122.8C592.6,122.9 599.8,124.1 607.1,124.3C612.5,124.4 617.8,124.4 623.2,124.0C628.5,123.7 633.9,122.6 639.2,121.9C644.6,121.2 649.9,120.0 655.3,119.5C663.9,118.7 672.4,118.5 681.0,118.7 M421.5,125.6C428.4,125.9 435.2,126.7 442.1,127.5C447.4,128.1 452.8,129.3 458.1,129.9C463.5,130.5 468.8,131.2 474.2,131.5C479.6,131.8 484.9,132.0 490.3,132.0C498.9,132.0 507.4,131.7 516.0,131.5C523.0,131.3 530.1,131.0 537.1,130.5C542.5,130.2 547.8,129.5 553.2,129.0C559.8,128.4 566.3,127.8 572.9,127.5C577.0,127.3 581.2,127.3 585.3,127.5C592.6,127.8 599.8,128.5 607.1,129.1C612.5,129.5 617.8,130.4 623.2,130.7C628.5,131.0 633.9,130.6 639.2,130.0C644.6,129.4 649.9,127.3 655.3,126.7C663.9,125.8 672.4,125.5 681.0,125.8 M421.5,125.6C431.0,126.7 440.6,128.0 450.1,127.5C455.5,127.2 460.8,126.5 466.2,125.9C471.5,125.3 476.9,124.6 482.2,124.0C487.6,123.4 492.9,122.5 498.3,122.3C504.2,122.1 510.1,122.0 516.0,122.0C523.0,122.0 530.1,122.1 537.1,122.3C542.5,122.4 547.8,122.8 553.2,123.0C559.8,123.2 566.3,123.3 572.9,123.5C577.0,123.6 581.2,123.8 585.3,124.0C590.7,124.2 596.0,124.4 601.4,124.6C605.9,124.8 610.5,125.1 615.0,125.5C620.0,126.0 625.0,127.4 630.0,128.5C635.0,129.6 640.0,131.0 645.0,132.0C650.0,133.0 655.0,134.1 660.0,134.5C667.0,135.1 674.0,135.6 681.0,135.5 M421.5,135.5C428.4,135.4 435.2,135.1 442.1,134.7C450.1,134.2 458.2,133.3 466.2,132.6C474.2,131.9 482.3,131.2 490.3,130.7C498.9,130.2 507.4,129.6 516.0,129.4C523.0,129.2 530.1,129.6 537.1,129.5C542.5,129.4 547.8,128.9 553.2,128.5C559.8,128.0 566.3,126.4 572.9,126.0C577.0,125.8 581.2,126.1 585.3,126.5C590.7,127.0 596.0,128.1 601.4,129.1C605.9,129.9 610.5,131.5 615.0,132.0C623.1,133.0 631.1,133.5 639.2,133.9C653.1,134.5 667.1,135.3 681.0,135.5 M421.5,135.5C431.0,134.9 440.6,134.4 450.1,133.9C460.8,133.3 471.5,132.6 482.2,132.3C493.5,132.0 504.7,132.4 516.0,132.3C523.0,132.2 530.1,131.5 537.1,131.5C542.5,131.5 547.8,132.8 553.2,133.1C559.8,133.5 566.3,134.0 572.9,133.9C579.7,133.8 586.5,133.1 593.3,132.6C600.5,132.1 607.8,131.5 615.0,130.7C620.0,130.2 625.0,129.0 630.0,128.5C638.4,127.6 646.9,126.8 655.3,126.5C663.9,126.2 672.4,125.8 681.0,125.8 M421.2,181.1C428.2,181.3 435.1,181.6 442.1,181.9C446.4,182.1 450.7,182.4 455.0,182.6C458.4,182.8 461.8,183.0 465.2,182.9C468.6,182.8 472.0,181.4 475.4,180.8C478.8,180.2 482.3,179.6 485.7,179.3C489.1,179.0 492.5,178.7 495.9,178.8C499.3,178.9 502.7,179.2 506.1,179.3C509.4,179.4 512.6,179.6 515.9,179.7C522.7,180.0 529.5,180.2 536.3,180.5C542.9,180.8 549.4,181.3 556.0,181.4C561.7,181.5 567.4,180.3 573.1,180.1C577.5,180.0 581.8,180.4 586.2,180.8C587.5,180.9 588.7,181.4 590.0,181.5C597.9,181.9 605.7,180.8 613.6,181.2C621.5,181.6 629.3,183.1 637.2,183.1C645.1,183.1 653.0,181.7 660.9,181.5C667.6,181.3 674.3,181.1 681.0,181.2 M421.2,230.7C423.7,230.6 426.2,229.7 428.7,228.3C432.0,226.5 435.2,222.5 438.5,219.5C441.7,216.6 445.0,213.6 448.2,210.7C450.5,208.6 452.7,206.6 455.0,204.5C458.4,201.4 461.8,198.1 465.2,195.0C468.6,191.9 472.0,188.6 475.4,186.0C478.8,183.4 482.3,181.0 485.7,179.3C489.1,177.7 492.5,176.2 495.9,175.2C499.3,174.2 502.7,173.0 506.1,172.7C509.4,172.4 512.6,172.3 515.9,172.2C520.5,172.1 525.1,172.1 529.7,172.2C534.1,172.3 538.4,173.0 542.8,173.5C547.2,174.0 551.6,174.9 556.0,175.5C561.7,176.3 567.4,177.5 573.1,177.5C576.2,177.5 579.2,176.9 582.3,176.8C584.9,176.7 587.4,176.7 590.0,176.8C595.2,177.0 600.5,178.6 605.7,180.0C611.0,181.4 616.2,184.0 621.5,187.0C625.7,189.4 629.9,193.4 634.1,196.5C637.8,199.2 641.4,202.2 645.1,204.4C647.7,206.0 650.4,207.6 653.0,208.3C655.6,209.0 658.3,209.7 660.9,209.9C667.6,210.4 674.3,210.7 681.0,210.4 M421.2,240.0C423.7,240.1 426.2,239.3 428.7,238.0C432.0,236.3 435.2,232.3 438.5,229.2C441.7,226.1 445.0,222.9 448.2,219.5C450.5,217.1 452.7,214.4 455.0,212.0C458.4,208.4 461.8,204.3 465.2,201.5C468.6,198.7 472.0,196.7 475.4,194.6C478.8,192.5 482.3,189.5 485.7,188.5C489.1,187.5 492.5,186.7 495.9,186.5C499.3,186.3 502.7,185.9 506.1,185.9C509.4,185.9 512.6,186.0 515.9,186.0C522.7,186.0 529.5,186.0 536.3,186.0C540.7,186.0 545.0,185.3 549.4,184.7C553.8,184.1 558.2,182.7 562.6,182.1C566.1,181.6 569.6,181.2 573.1,181.4C576.1,181.6 579.0,182.6 582.0,183.0C584.7,183.4 587.3,183.6 590.0,183.9C595.2,184.5 600.5,184.8 605.7,185.5C611.0,186.2 616.2,188.6 621.5,191.0C626.7,193.4 632.0,197.6 637.2,201.2C641.4,204.1 645.6,206.8 649.8,210.7C652.4,213.1 655.1,217.2 657.7,220.1C660.3,223.0 663.0,226.6 665.6,228.0C670.7,230.8 675.9,231.2 681.0,230.0 M421.2,210.4C425.5,210.5 429.7,210.4 434.0,210.3C437.0,210.3 440.0,210.0 443.0,209.8C445.4,209.6 447.7,208.6 450.1,207.6C452.8,206.5 455.4,204.4 458.1,202.9C460.8,201.4 463.5,199.9 466.2,198.7C468.9,197.6 471.5,196.3 474.2,195.8C476.9,195.3 479.5,194.8 482.2,194.7C490.2,194.5 498.1,194.3 506.1,194.6C509.4,194.7 512.6,194.9 515.9,195.0C520.5,195.2 525.1,195.3 529.7,195.2C534.1,195.1 538.4,192.8 542.8,191.3C547.2,189.8 551.6,187.8 556.0,186.0C559.1,184.7 562.1,182.7 565.2,182.1C567.8,181.5 570.5,181.6 573.1,182.1C576.2,182.6 579.2,184.1 582.3,184.7C584.9,185.2 587.4,184.9 590.0,185.5C595.2,186.7 600.5,189.2 605.7,191.0C611.0,192.8 616.2,194.4 621.5,196.5C626.7,198.5 632.0,201.1 637.2,204.4C642.5,207.7 647.7,212.8 653.0,217.0C657.0,220.2 661.0,224.6 665.0,226.5C670.3,229.0 675.7,230.3 681.0,230.0 M421.2,258.3C423.7,255.0 426.2,251.8 428.7,248.7C432.0,244.7 435.2,240.9 438.5,237.0C441.7,233.1 445.0,229.2 448.2,225.3C451.5,221.4 454.7,217.6 458.0,213.6C460.3,210.8 462.5,207.4 464.8,205.0C467.2,202.4 469.6,199.8 472.0,198.5C474.7,197.1 477.3,195.7 480.0,195.3C483.3,194.8 486.7,194.5 490.0,194.8 M421.2,230.7C423.7,230.4 426.2,229.8 428.7,229.2C432.0,228.4 435.2,227.3 438.5,226.3C441.7,225.3 445.0,224.1 448.2,222.9C451.5,221.7 454.7,220.7 458.0,219.0C460.4,217.7 462.8,214.5 465.2,213.0C468.6,210.9 472.0,209.4 475.4,207.9C478.8,206.4 482.3,204.8 485.7,203.8C489.1,202.8 492.5,201.7 495.9,201.3C499.3,200.9 502.7,200.5 506.1,200.3C509.4,200.1 512.6,200.0 515.9,199.8C520.5,199.5 525.1,199.3 529.7,198.5C534.1,197.8 538.4,194.5 542.8,192.6C547.2,190.7 551.6,188.7 556.0,187.0C559.0,185.9 562.0,184.6 565.0,184.0C567.7,183.4 570.4,183.0 573.1,183.4C576.1,183.9 579.0,185.6 582.0,186.5C584.7,187.3 587.3,187.7 590.0,188.6C595.2,190.3 600.5,192.6 605.7,194.9C611.0,197.2 616.2,199.7 621.5,202.8C626.7,205.9 632.0,210.1 637.2,213.8C642.5,217.5 647.7,220.9 653.0,224.8C658.2,228.7 663.5,234.9 668.7,237.4C672.8,239.3 676.9,240.4 681.0,240.3 M421.2,240.0C423.7,240.1 426.2,239.9 428.7,239.5C432.0,238.9 435.2,237.5 438.5,236.1C441.7,234.7 445.0,232.8 448.2,231.2C451.5,229.6 454.7,227.7 458.0,226.3C461.7,224.7 465.3,223.9 469.0,222.4C473.4,220.6 477.8,217.5 482.2,216.1C487.6,214.4 492.9,213.1 498.3,212.4C504.2,211.6 510.0,211.0 515.9,210.5C520.5,210.1 525.1,210.5 529.7,210.0C534.1,209.5 538.4,206.4 542.8,204.4C547.2,202.4 551.6,199.1 556.0,197.8C558.2,197.1 560.4,196.6 562.6,196.5C566.1,196.4 569.6,196.3 573.1,196.3C578.3,196.3 583.6,196.6 588.8,197.2C589.2,197.2 589.6,197.9 590.0,198.1C595.2,200.2 600.5,199.1 605.7,201.2C611.0,203.3 616.2,206.5 621.5,209.1C626.7,211.7 632.0,214.4 637.2,217.0C642.5,219.6 647.7,221.9 653.0,224.8C658.2,227.6 663.5,231.5 668.7,234.3C672.8,236.5 676.9,238.6 681.0,240.3 M421.2,258.3C423.7,256.2 426.2,254.2 428.7,252.6C432.0,250.5 435.2,248.8 438.5,246.8C441.7,244.9 445.0,242.8 448.2,240.9C451.5,238.9 454.7,237.1 458.0,235.1C461.7,232.9 465.3,230.6 469.0,228.3C473.4,225.6 477.8,222.1 482.2,220.0C487.6,217.4 492.9,214.8 498.3,214.0C504.2,213.1 510.0,212.5 515.9,212.0C520.5,211.6 525.1,210.8 529.7,210.8C536.3,210.7 542.8,210.9 549.4,211.0C557.3,211.1 565.2,211.3 573.1,211.6C578.3,211.8 583.6,212.7 588.8,213.0C589.2,213.0 589.6,213.0 590.0,213.0C595.2,213.3 600.5,214.0 605.7,214.6C611.0,215.2 616.2,215.7 621.5,216.5C626.7,217.3 632.0,219.6 637.2,222.0C642.5,224.4 647.7,228.8 653.0,233.0C658.2,237.1 663.5,242.3 668.7,247.0C672.8,250.7 676.9,254.4 681.0,258.2 M421.2,258.3C423.7,256.6 426.2,255.0 428.7,253.6C432.0,251.8 435.2,250.3 438.5,248.7C441.7,247.1 445.0,245.5 448.2,243.9C451.5,242.3 454.7,240.8 458.0,239.0C461.7,237.0 465.3,234.5 469.0,232.2C473.4,229.5 477.8,226.4 482.2,224.0C487.6,221.1 492.9,217.9 498.3,216.5C504.2,215.0 510.0,213.8 515.9,213.2C520.5,212.7 525.1,212.0 529.7,212.0C536.3,212.0 542.8,212.0 549.4,212.0C557.3,212.0 565.2,212.1 573.1,212.2C578.3,212.3 583.6,212.8 588.8,213.5C589.2,213.6 589.6,213.7 590.0,213.8C595.2,215.2 600.5,216.5 605.7,218.5C611.0,220.5 616.2,223.8 621.5,226.4C626.7,229.0 632.0,231.4 637.2,234.3C642.5,237.2 647.7,240.5 653.0,243.7C658.2,246.8 663.5,250.6 668.7,253.2C672.8,255.2 676.9,257.1 681.0,258.2 M515.9,211.5C522.7,210.8 529.5,208.9 536.3,207.0C540.7,205.8 545.0,202.2 549.4,201.8C557.3,201.0 565.2,201.5 573.1,201.1C578.3,200.8 583.6,199.8 588.8,199.8C589.2,199.8 589.6,200.3 590.0,200.4C595.2,202.1 600.5,201.0 605.7,202.8C611.0,204.6 616.2,208.5 621.5,212.2C626.7,215.9 632.0,220.6 637.2,224.8C642.5,229.0 647.7,233.2 653.0,237.4C658.2,241.6 663.5,246.2 668.7,250.0C672.8,253.0 676.9,255.8 681.0,258.2" stroke="#000" stroke-opacity="0.13" stroke-width="2.60" fill="none" stroke-linejoin="round"/>
<path d="M421.5,35.0C428.4,35.2 435.2,36.1 442.1,37.0C447.4,37.7 452.8,39.0 458.1,40.3C463.5,41.6 468.8,43.5 474.2,45.1C479.6,46.7 484.9,48.8 490.3,49.9C494.0,50.7 497.8,51.3 501.5,51.5C506.3,51.7 511.2,51.8 516.0,52.0C523.0,52.3 530.1,52.7 537.1,53.1C542.5,53.4 547.8,54.1 553.2,54.4C559.8,54.8 566.3,55.1 572.9,55.2C577.0,55.3 581.2,55.0 585.3,54.7C590.7,54.3 596.0,52.7 601.4,51.5C605.9,50.5 610.5,49.5 615.0,48.3C617.7,47.6 620.5,46.7 623.2,45.9C628.5,44.3 633.9,42.6 639.2,41.1C644.6,39.6 649.9,37.9 655.3,37.0C660.7,36.1 666.0,35.3 671.4,35.0C674.6,34.8 677.8,34.6 681.0,34.6 M421.5,41.1C428.4,40.8 435.2,41.7 442.1,43.5C447.4,44.9 452.8,48.2 458.1,50.7C462.4,52.7 466.7,55.0 471.0,57.1C473.7,58.4 476.3,59.8 479.0,61.1C482.8,63.0 486.5,65.1 490.3,66.8C494.6,68.7 498.8,71.3 503.1,71.9C507.4,72.5 511.7,72.4 516.0,72.9C523.0,73.7 530.1,74.8 537.1,75.6C542.5,76.2 547.8,76.8 553.2,77.2C559.8,77.6 566.3,77.7 572.9,77.7C579.0,77.7 585.0,76.6 591.1,75.6C596.4,74.7 601.8,72.3 607.1,70.0C611.4,68.2 615.7,65.7 620.0,63.5C623.7,61.6 627.5,59.9 631.2,57.9C636.6,55.0 641.9,50.7 647.3,48.3C652.6,45.9 658.0,43.6 663.3,42.7C669.2,41.7 675.1,40.9 681.0,41.1 M421.5,77.2C426.8,77.5 432.0,77.2 437.3,76.1C441.6,75.2 445.8,73.1 450.1,71.6C455.5,69.7 460.8,67.9 466.2,66.0C470.5,64.5 474.7,63.0 479.0,61.6C482.8,60.3 486.5,58.8 490.3,57.9C494.6,56.8 498.8,55.8 503.1,55.5C507.4,55.2 511.7,54.8 516.0,54.9C520.4,55.0 524.7,55.2 529.1,55.6C534.4,56.1 539.8,57.0 545.1,57.6C550.5,58.2 555.8,58.9 561.2,59.3C565.1,59.6 569.0,59.9 572.9,59.8C577.0,59.7 581.2,59.2 585.3,59.0C589.9,58.8 594.5,58.8 599.1,58.9C604.4,59.0 609.8,59.9 615.1,60.7C620.5,61.5 625.8,62.8 631.2,64.3C636.6,65.8 641.9,68.0 647.3,70.0C652.6,72.0 658.0,74.9 663.3,76.1C669.2,77.4 675.1,77.6 681.0,77.2 M421.5,77.2C426.8,77.5 432.0,77.4 437.3,76.3C441.6,75.4 445.8,73.4 450.1,72.0C455.5,70.2 460.8,68.3 466.2,66.5C470.5,65.1 474.7,63.6 479.0,62.2C482.8,61.0 486.5,59.5 490.3,58.6C494.6,57.6 498.8,56.6 503.1,56.3C507.4,56.0 511.7,55.7 516.0,55.7C520.4,55.7 524.7,55.9 529.1,56.2C534.4,56.6 539.8,57.7 545.1,58.3C550.5,58.9 555.8,59.6 561.2,60.0C565.1,60.3 569.0,60.5 572.9,60.4C577.0,60.3 581.2,59.8 585.3,59.6C589.9,59.4 594.5,59.4 599.1,59.5C604.4,59.6 609.8,60.5 615.1,61.2C620.5,61.9 625.8,63.3 631.2,64.8C636.6,66.3 641.9,68.5 647.3,70.4C652.6,72.3 658.0,75.1 663.3,76.3C669.2,77.6 675.1,77.7 681.0,77.2 M421.5,77.2C431.0,76.7 440.6,76.2 450.1,75.6C460.8,75.0 471.5,73.9 482.2,73.5C493.5,73.1 504.7,73.1 516.0,72.9C520.4,72.8 524.7,72.7 529.1,72.4C534.4,72.0 539.8,68.9 545.1,67.6C550.5,66.3 555.8,64.8 561.2,64.3C565.1,63.9 569.0,63.7 572.9,64.0C577.0,64.4 581.2,65.5 585.3,66.0C587.2,66.3 589.2,66.3 591.1,66.6C596.4,67.4 601.8,68.9 607.1,70.0C612.5,71.1 617.8,72.3 623.2,73.2C628.5,74.1 633.9,75.1 639.2,75.6C644.6,76.1 649.9,76.5 655.3,76.7C663.9,77.0 672.4,77.2 681.0,77.2 M450.1,75.6C460.8,75.0 471.5,74.1 482.2,73.5C493.5,72.9 504.7,72.5 516.0,72.9C523.0,73.2 530.1,74.8 537.1,75.6M553.2,77.2C559.8,77.7 566.3,77.8 572.9,77.7C577.0,77.7 581.2,76.9 585.3,76.1C590.7,75.0 596.0,72.6 601.4,70.8C605.9,69.3 610.5,67.4 615.0,66.0C618.3,65.0 621.7,64.0 625.0,63.2 M421.5,118.7C428.4,118.1 435.2,117.6 442.1,117.0C450.1,116.4 458.2,115.5 466.2,115.1C474.2,114.7 482.3,114.3 490.3,114.3C498.9,114.3 507.4,114.6 516.0,114.8C523.0,115.0 530.1,115.4 537.1,116.2C542.5,116.8 547.8,119.2 553.2,120.3C559.8,121.7 566.3,123.7 572.9,123.5C577.0,123.4 581.2,122.0 585.3,121.1C590.7,120.0 596.0,118.3 601.4,117.5C605.9,116.8 610.5,116.3 615.0,115.9C617.7,115.7 620.5,115.4 623.2,115.4C628.5,115.4 633.9,115.8 639.2,116.2C644.6,116.6 649.9,117.2 655.3,117.5C663.9,118.0 672.4,118.5 681.0,118.7 M421.5,118.7C428.4,118.6 435.2,118.8 442.1,119.5C450.1,120.3 458.2,122.2 466.2,123.5C474.2,124.8 482.3,126.7 490.3,127.5C498.9,128.3 507.4,128.7 516.0,129.1C523.0,129.5 530.1,130.0 537.1,129.9C542.5,129.8 547.8,128.4 553.2,127.5C559.8,126.4 566.3,124.9 572.9,124.0C577.0,123.4 581.2,122.7 585.3,122.8C592.6,122.9 599.8,124.1 607.1,124.3C612.5,124.4 617.8,124.4 623.2,124.0C628.5,123.7 633.9,122.6 639.2,121.9C644.6,121.2 649.9,120.0 655.3,119.5C663.9,118.7 672.4,118.5 681.0,118.7 M421.5,125.6C428.4,125.9 435.2,126.7 442.1,127.5C447.4,128.1 452.8,129.3 458.1,129.9C463.5,130.5 468.8,131.2 474.2,131.5C479.6,131.8 484.9,132.0 490.3,132.0C498.9,132.0 507.4,131.7 516.0,131.5C523.0,131.3 530.1,131.0 537.1,130.5C542.5,130.2 547.8,129.5 553.2,129.0C559.8,128.4 566.3,127.8 572.9,127.5C577.0,127.3 581.2,127.3 585.3,127.5C592.6,127.8 599.8,128.5 607.1,129.1C612.5,129.5 617.8,130.4 623.2,130.7C628.5,131.0 633.9,130.6 639.2,130.0C644.6,129.4 649.9,127.3 655.3,126.7C663.9,125.8 672.4,125.5 681.0,125.8 M421.5,125.6C431.0,126.7 440.6,128.0 450.1,127.5C455.5,127.2 460.8,126.5 466.2,125.9C471.5,125.3 476.9,124.6 482.2,124.0C487.6,123.4 492.9,122.5 498.3,122.3C504.2,122.1 510.1,122.0 516.0,122.0C523.0,122.0 530.1,122.1 537.1,122.3C542.5,122.4 547.8,122.8 553.2,123.0C559.8,123.2 566.3,123.3 572.9,123.5C577.0,123.6 581.2,123.8 585.3,124.0C590.7,124.2 596.0,124.4 601.4,124.6C605.9,124.8 610.5,125.1 615.0,125.5C620.0,126.0 625.0,127.4 630.0,128.5C635.0,129.6 640.0,131.0 645.0,132.0C650.0,133.0 655.0,134.1 660.0,134.5C667.0,135.1 674.0,135.6 681.0,135.5 M421.5,135.5C428.4,135.4 435.2,135.1 442.1,134.7C450.1,134.2 458.2,133.3 466.2,132.6C474.2,131.9 482.3,131.2 490.3,130.7C498.9,130.2 507.4,129.6 516.0,129.4C523.0,129.2 530.1,129.6 537.1,129.5C542.5,129.4 547.8,128.9 553.2,128.5C559.8,128.0 566.3,126.4 572.9,126.0C577.0,125.8 581.2,126.1 585.3,126.5C590.7,127.0 596.0,128.1 601.4,129.1C605.9,129.9 610.5,131.5 615.0,132.0C623.1,133.0 631.1,133.5 639.2,133.9C653.1,134.5 667.1,135.3 681.0,135.5 M421.5,135.5C431.0,134.9 440.6,134.4 450.1,133.9C460.8,133.3 471.5,132.6 482.2,132.3C493.5,132.0 504.7,132.4 516.0,132.3C523.0,132.2 530.1,131.5 537.1,131.5C542.5,131.5 547.8,132.8 553.2,133.1C559.8,133.5 566.3,134.0 572.9,133.9C579.7,133.8 586.5,133.1 593.3,132.6C600.5,132.1 607.8,131.5 615.0,130.7C620.0,130.2 625.0,129.0 630.0,128.5C638.4,127.6 646.9,126.8 655.3,126.5C663.9,126.2 672.4,125.8 681.0,125.8 M421.2,181.1C428.2,181.3 435.1,181.6 442.1,181.9C446.4,182.1 450.7,182.4 455.0,182.6C458.4,182.8 461.8,183.0 465.2,182.9C468.6,182.8 472.0,181.4 475.4,180.8C478.8,180.2 482.3,179.6 485.7,179.3C489.1,179.0 492.5,178.7 495.9,178.8C499.3,178.9 502.7,179.2 506.1,179.3C509.4,179.4 512.6,179.6 515.9,179.7C522.7,180.0 529.5,180.2 536.3,180.5C542.9,180.8 549.4,181.3 556.0,181.4C561.7,181.5 567.4,180.3 573.1,180.1C577.5,180.0 581.8,180.4 586.2,180.8C587.5,180.9 588.7,181.4 590.0,181.5C597.9,181.9 605.7,180.8 613.6,181.2C621.5,181.6 629.3,183.1 637.2,183.1C645.1,183.1 653.0,181.7 660.9,181.5C667.6,181.3 674.3,181.1 681.0,181.2 M421.2,230.7C423.7,230.6 426.2,229.7 428.7,228.3C432.0,226.5 435.2,222.5 438.5,219.5C441.7,216.6 445.0,213.6 448.2,210.7C450.5,208.6 452.7,206.6 455.0,204.5C458.4,201.4 461.8,198.1 465.2,195.0C468.6,191.9 472.0,188.6 475.4,186.0C478.8,183.4 482.3,181.0 485.7,179.3C489.1,177.7 492.5,176.2 495.9,175.2C499.3,174.2 502.7,173.0 506.1,172.7C509.4,172.4 512.6,172.3 515.9,172.2C520.5,172.1 525.1,172.1 529.7,172.2C534.1,172.3 538.4,173.0 542.8,173.5C547.2,174.0 551.6,174.9 556.0,175.5C561.7,176.3 567.4,177.5 573.1,177.5C576.2,177.5 579.2,176.9 582.3,176.8C584.9,176.7 587.4,176.7 590.0,176.8C595.2,177.0 600.5,178.6 605.7,180.0C611.0,181.4 616.2,184.0 621.5,187.0C625.7,189.4 629.9,193.4 634.1,196.5C637.8,199.2 641.4,202.2 645.1,204.4C647.7,206.0 650.4,207.6 653.0,208.3C655.6,209.0 658.3,209.7 660.9,209.9C667.6,210.4 674.3,210.7 681.0,210.4 M421.2,240.0C423.7,240.1 426.2,239.3 428.7,238.0C432.0,236.3 435.2,232.3 438.5,229.2C441.7,226.1 445.0,222.9 448.2,219.5C450.5,217.1 452.7,214.4 455.0,212.0C458.4,208.4 461.8,204.3 465.2,201.5C468.6,198.7 472.0,196.7 475.4,194.6C478.8,192.5 482.3,189.5 485.7,188.5C489.1,187.5 492.5,186.7 495.9,186.5C499.3,186.3 502.7,185.9 506.1,185.9C509.4,185.9 512.6,186.0 515.9,186.0C522.7,186.0 529.5,186.0 536.3,186.0C540.7,186.0 545.0,185.3 549.4,184.7C553.8,184.1 558.2,182.7 562.6,182.1C566.1,181.6 569.6,181.2 573.1,181.4C576.1,181.6 579.0,182.6 582.0,183.0C584.7,183.4 587.3,183.6 590.0,183.9C595.2,184.5 600.5,184.8 605.7,185.5C611.0,186.2 616.2,188.6 621.5,191.0C626.7,193.4 632.0,197.6 637.2,201.2C641.4,204.1 645.6,206.8 649.8,210.7C652.4,213.1 655.1,217.2 657.7,220.1C660.3,223.0 663.0,226.6 665.6,228.0C670.7,230.8 675.9,231.2 681.0,230.0 M421.2,210.4C425.5,210.5 429.7,210.4 434.0,210.3C437.0,210.3 440.0,210.0 443.0,209.8C445.4,209.6 447.7,208.6 450.1,207.6C452.8,206.5 455.4,204.4 458.1,202.9C460.8,201.4 463.5,199.9 466.2,198.7C468.9,197.6 471.5,196.3 474.2,195.8C476.9,195.3 479.5,194.8 482.2,194.7C490.2,194.5 498.1,194.3 506.1,194.6C509.4,194.7 512.6,194.9 515.9,195.0C520.5,195.2 525.1,195.3 529.7,195.2C534.1,195.1 538.4,192.8 542.8,191.3C547.2,189.8 551.6,187.8 556.0,186.0C559.1,184.7 562.1,182.7 565.2,182.1C567.8,181.5 570.5,181.6 573.1,182.1C576.2,182.6 579.2,184.1 582.3,184.7C584.9,185.2 587.4,184.9 590.0,185.5C595.2,186.7 600.5,189.2 605.7,191.0C611.0,192.8 616.2,194.4 621.5,196.5C626.7,198.5 632.0,201.1 637.2,204.4C642.5,207.7 647.7,212.8 653.0,217.0C657.0,220.2 661.0,224.6 665.0,226.5C670.3,229.0 675.7,230.3 681.0,230.0 M421.2,258.3C423.7,255.0 426.2,251.8 428.7,248.7C432.0,244.7 435.2,240.9 438.5,237.0C441.7,233.1 445.0,229.2 448.2,225.3C451.5,221.4 454.7,217.6 458.0,213.6C460.3,210.8 462.5,207.4 464.8,205.0C467.2,202.4 469.6,199.8 472.0,198.5C474.7,197.1 477.3,195.7 480.0,195.3C483.3,194.8 486.7,194.5 490.0,194.8 M421.2,230.7C423.7,230.4 426.2,229.8 428.7,229.2C432.0,228.4 435.2,227.3 438.5,226.3C441.7,225.3 445.0,224.1 448.2,222.9C451.5,221.7 454.7,220.7 458.0,219.0C460.4,217.7 462.8,214.5 465.2,213.0C468.6,210.9 472.0,209.4 475.4,207.9C478.8,206.4 482.3,204.8 485.7,203.8C489.1,202.8 492.5,201.7 495.9,201.3C499.3,200.9 502.7,200.5 506.1,200.3C509.4,200.1 512.6,200.0 515.9,199.8C520.5,199.5 525.1,199.3 529.7,198.5C534.1,197.8 538.4,194.5 542.8,192.6C547.2,190.7 551.6,188.7 556.0,187.0C559.0,185.9 562.0,184.6 565.0,184.0C567.7,183.4 570.4,183.0 573.1,183.4C576.1,183.9 579.0,185.6 582.0,186.5C584.7,187.3 587.3,187.7 590.0,188.6C595.2,190.3 600.5,192.6 605.7,194.9C611.0,197.2 616.2,199.7 621.5,202.8C626.7,205.9 632.0,210.1 637.2,213.8C642.5,217.5 647.7,220.9 653.0,224.8C658.2,228.7 663.5,234.9 668.7,237.4C672.8,239.3 676.9,240.4 681.0,240.3 M421.2,240.0C423.7,240.1 426.2,239.9 428.7,239.5C432.0,238.9 435.2,237.5 438.5,236.1C441.7,234.7 445.0,232.8 448.2,231.2C451.5,229.6 454.7,227.7 458.0,226.3C461.7,224.7 465.3,223.9 469.0,222.4C473.4,220.6 477.8,217.5 482.2,216.1C487.6,214.4 492.9,213.1 498.3,212.4C504.2,211.6 510.0,211.0 515.9,210.5C520.5,210.1 525.1,210.5 529.7,210.0C534.1,209.5 538.4,206.4 542.8,204.4C547.2,202.4 551.6,199.1 556.0,197.8C558.2,197.1 560.4,196.6 562.6,196.5C566.1,196.4 569.6,196.3 573.1,196.3C578.3,196.3 583.6,196.6 588.8,197.2C589.2,197.2 589.6,197.9 590.0,198.1C595.2,200.2 600.5,199.1 605.7,201.2C611.0,203.3 616.2,206.5 621.5,209.1C626.7,211.7 632.0,214.4 637.2,217.0C642.5,219.6 647.7,221.9 653.0,224.8C658.2,227.6 663.5,231.5 668.7,234.3C672.8,236.5 676.9,238.6 681.0,240.3 M421.2,258.3C423.7,256.2 426.2,254.2 428.7,252.6C432.0,250.5 435.2,248.8 438.5,246.8C441.7,244.9 445.0,242.8 448.2,240.9C451.5,238.9 454.7,237.1 458.0,235.1C461.7,232.9 465.3,230.6 469.0,228.3C473.4,225.6 477.8,222.1 482.2,220.0C487.6,217.4 492.9,214.8 498.3,214.0C504.2,213.1 510.0,212.5 515.9,212.0C520.5,211.6 525.1,210.8 529.7,210.8C536.3,210.7 542.8,210.9 549.4,211.0C557.3,211.1 565.2,211.3 573.1,211.6C578.3,211.8 583.6,212.7 588.8,213.0C589.2,213.0 589.6,213.0 590.0,213.0C595.2,213.3 600.5,214.0 605.7,214.6C611.0,215.2 616.2,215.7 621.5,216.5C626.7,217.3 632.0,219.6 637.2,222.0C642.5,224.4 647.7,228.8 653.0,233.0C658.2,237.1 663.5,242.3 668.7,247.0C672.8,250.7 676.9,254.4 681.0,258.2 M421.2,258.3C423.7,256.6 426.2,255.0 428.7,253.6C432.0,251.8 435.2,250.3 438.5,248.7C441.7,247.1 445.0,245.5 448.2,243.9C451.5,242.3 454.7,240.8 458.0,239.0C461.7,237.0 465.3,234.5 469.0,232.2C473.4,229.5 477.8,226.4 482.2,224.0C487.6,221.1 492.9,217.9 498.3,216.5C504.2,215.0 510.0,213.8 515.9,213.2C520.5,212.7 525.1,212.0 529.7,212.0C536.3,212.0 542.8,212.0 549.4,212.0C557.3,212.0 565.2,212.1 573.1,212.2C578.3,212.3 583.6,212.8 588.8,213.5C589.2,213.6 589.6,213.7 590.0,213.8C595.2,215.2 600.5,216.5 605.7,218.5C611.0,220.5 616.2,223.8 621.5,226.4C626.7,229.0 632.0,231.4 637.2,234.3C642.5,237.2 647.7,240.5 653.0,243.7C658.2,246.8 663.5,250.6 668.7,253.2C672.8,255.2 676.9,257.1 681.0,258.2 M515.9,211.5C522.7,210.8 529.5,208.9 536.3,207.0C540.7,205.8 545.0,202.2 549.4,201.8C557.3,201.0 565.2,201.5 573.1,201.1C578.3,200.8 583.6,199.8 588.8,199.8C589.2,199.8 589.6,200.3 590.0,200.4C595.2,202.1 600.5,201.0 605.7,202.8C611.0,204.6 616.2,208.5 621.5,212.2C626.7,215.9 632.0,220.6 637.2,224.8C642.5,229.0 647.7,233.2 653.0,237.4C658.2,241.6 663.5,246.2 668.7,250.0C672.8,253.0 676.9,255.8 681.0,258.2" stroke="#161616" stroke-width="1.35" fill="none" stroke-linejoin="round"/>
<path d="M421.5,258.7h5.6M681.5,258.7h-5.6M421.5,237.6h2.6M681.5,237.6h-2.6M421.5,216.6h5.6M681.5,216.6h-5.6M421.5,195.5h2.6M681.5,195.5h-2.6M421.5,174.5h5.6M681.5,174.5h-5.6M421.5,153.4h2.6M681.5,153.4h-2.6M421.5,132.3h5.6M681.5,132.3h-5.6M421.5,111.3h2.6M681.5,111.3h-2.6M421.5,90.2h5.6M681.5,90.2h-5.6M421.5,69.2h2.6M681.5,69.2h-2.6M421.5,48.1h5.6M681.5,48.1h-5.6M421.5,27.1h2.6M681.5,27.1h-2.6" stroke="#222" stroke-width="1.3" fill="none"/>
<rect x="421.5" y="6" width="260.0" height="273.5" stroke="#222" stroke-width="1.7" fill="none"/>
<text transform="translate(414.5,263.8) scale(1,1.12)" class="tl">0</text>
<text transform="translate(414.5,221.7) scale(1,1.12)" class="tl">5</text>
<text transform="translate(414.5,179.6) scale(1,1.12)" class="tl">10</text>
<text transform="translate(414.5,137.4) scale(1,1.12)" class="tl">15</text>
<text transform="translate(414.5,95.3) scale(1,1.12)" class="tl">20</text>
<text transform="translate(414.5,53.2) scale(1,1.12)" class="tl">25</text>
<text transform="translate(414.5,11.1) scale(1,1.12)" class="tl">30</text>
<text x="421.0" y="299.1" class="xl">Γ</text>
<text x="516.2" y="299.1" class="xl" text-anchor="middle">M</text>
<text x="574.9" y="299.1" class="xl" text-anchor="middle">K</text>
<text x="682.0" y="299.1" class="xl" text-anchor="end">Γ</text>
<text x="426.8" y="22.1" class="pl">(b)</text>
<text x="676.3" y="22.6" class="ml" text-anchor="end">MoGe<tspan class="sub" dy="1">2</tspan><tspan dy="-1">N</tspan><tspan class="sub" dy="1">4</tspan></text>
<text class="yl" transform="translate(371.8,141.2) rotate(-90) scale(1.0,1)" text-anchor="middle">Frequency (THz)</text>
<line x1="64" y1="577.1" x2="325" y2="577.1" stroke="#8a8aee" stroke-width="1.4" stroke-dasharray="3,2" fill="none"/>
<line x1="159.4" y1="322.3" x2="159.4" y2="595.4" stroke="#8a8aee" stroke-width="1.4" stroke-dasharray="3,2" fill="none" stroke-dashoffset="-1.1"/>
<line x1="216.2" y1="322.3" x2="216.2" y2="595.4" stroke="#8a8aee" stroke-width="1.4" stroke-dasharray="3,2" fill="none" stroke-dashoffset="-1.1"/>
<path d="M64.0,351.7C70.7,351.6 77.4,352.6 84.1,353.8C89.4,354.8 94.8,357.2 100.1,359.5C105.5,361.8 110.8,365.0 116.2,367.5C121.6,370.0 126.9,373.0 132.3,374.7C137.6,376.4 143.0,378.0 148.3,378.4C152.0,378.7 155.7,378.9 159.4,379.1C166.0,379.4 172.5,379.4 179.1,379.8C184.4,380.1 189.8,381.0 195.1,381.4C202.1,382.0 209.2,382.5 216.2,382.6C221.5,382.6 226.8,381.5 232.1,380.5C237.4,379.5 242.8,377.5 248.1,376.0C254.8,374.1 261.5,372.3 268.2,369.9C273.5,368.0 278.9,365.0 284.2,362.7C289.6,360.4 294.9,357.9 300.3,356.2C305.7,354.5 311.0,352.8 316.4,352.2C319.3,351.9 322.1,351.6 325.0,351.7 M64.0,356.6C70.7,356.4 77.4,357.3 84.1,358.7C89.4,359.8 94.8,362.6 100.1,365.1C105.5,367.6 110.8,370.8 116.2,373.9C120.5,376.4 124.8,379.3 129.1,381.6C132.8,383.6 136.6,385.9 140.3,386.8C144.6,387.9 148.8,388.5 153.1,389.2C155.2,389.5 157.3,390.0 159.4,390.2C166.0,390.8 172.5,391.1 179.1,391.5C184.4,391.8 189.8,392.0 195.1,392.3C202.1,392.7 209.2,393.3 216.2,393.6C221.5,393.8 226.8,392.6 232.1,391.5C237.4,390.4 242.8,387.9 248.1,385.9C253.7,383.8 259.4,381.7 265.0,379.1C271.4,376.2 277.8,372.4 284.2,369.1C289.6,366.4 294.9,363.2 300.3,361.1C305.7,359.0 311.0,357.0 316.4,356.2C319.3,355.8 322.1,355.4 325.0,355.4 M64.0,395.1C70.7,394.8 77.4,393.7 84.1,392.4C89.4,391.4 94.8,389.2 100.1,388.0C105.5,386.8 110.8,385.6 116.2,385.1C120.5,384.7 124.8,384.4 129.1,384.7C132.8,384.9 136.6,385.8 140.3,386.0C146.7,386.4 153.0,386.8 159.4,386.9C166.0,387.0 172.5,387.1 179.1,387.0C184.4,386.9 189.8,386.5 195.1,386.3C202.1,386.1 209.2,386.0 216.2,386.0C221.5,386.0 226.8,386.5 232.1,386.9C236.1,387.2 240.1,388.2 244.1,388.4C252.1,388.8 260.2,387.5 268.2,387.6C273.5,387.7 278.9,388.4 284.2,389.2C289.6,390.0 294.9,392.3 300.3,393.2C305.7,394.1 311.0,394.9 316.4,395.1C319.3,395.2 322.1,395.2 325.0,395.1 M129.1,384.7C132.8,384.9 136.6,386.4 140.3,386.4C146.7,386.5 153.0,385.7 159.4,385.8C166.0,386.0 172.5,386.4 179.1,386.5C184.4,386.6 189.8,386.4 195.1,386.5C202.1,386.7 209.2,387.2 216.2,387.5C221.5,387.7 226.8,387.8 232.1,388.0C238.1,388.2 244.0,388.6 250.0,389.0C256.7,389.4 263.3,389.9 270.0,390.5C276.7,391.1 283.3,392.3 290.0,393.0C296.7,393.7 303.3,394.3 310.0,394.6C315.0,394.8 320.0,395.1 325.0,395.1 M64.0,395.1C78.7,395.3 93.5,395.7 108.2,396.1C118.9,396.4 129.6,396.8 140.3,397.2C146.7,397.4 153.0,397.9 159.4,397.9C166.0,397.9 172.5,397.4 179.1,397.1C184.4,396.9 189.8,396.5 195.1,396.3C202.1,396.1 209.2,397.7 216.2,397.6C221.5,397.5 226.8,396.3 232.1,395.5C236.1,394.9 240.1,393.8 244.1,393.4C249.4,392.9 254.8,392.7 260.1,392.9C268.1,393.3 276.2,394.5 284.2,394.8C297.8,395.3 311.4,395.4 325.0,395.1 M140.3,397.2C146.7,397.4 153.0,397.8 159.4,397.9C166.0,398.0 172.5,397.6 179.1,397.5C191.5,397.4 203.8,398.1 216.2,398.0C222.8,398.0 229.5,396.7 236.1,395.8C240.7,395.2 245.4,393.7 250.0,393.5C255.0,393.3 260.0,393.4 265.0,393.6C273.3,393.9 281.7,394.6 290.0,394.8C301.7,395.1 313.3,395.2 325.0,395.1 M64.0,426.2C70.7,426.5 77.4,427.5 84.1,428.7C89.4,429.6 94.8,431.4 100.1,432.7C104.4,433.7 108.7,434.8 113.0,435.6C115.1,436.0 117.3,436.1 119.4,436.0C122.1,435.9 124.7,434.3 127.4,432.7C130.6,430.8 133.9,427.0 137.1,424.6C140.3,422.2 143.5,419.6 146.7,418.2C149.9,416.8 153.2,415.8 156.4,415.1C157.4,414.9 158.4,414.7 159.4,414.6C163.3,414.4 167.1,414.7 171.0,415.2C176.4,415.9 181.7,417.8 187.1,419.6C192.5,421.4 197.8,424.8 203.2,426.1C207.5,427.1 211.9,427.9 216.2,428.0C221.5,428.1 226.8,426.6 232.1,426.9C237.4,427.3 242.8,429.4 248.1,430.9C253.7,432.5 259.4,435.6 265.0,436.2C268.7,436.6 272.5,436.0 276.2,435.2C281.6,434.1 286.9,432.2 292.3,430.9C297.6,429.6 303.0,428.0 308.3,427.3C313.9,426.6 319.4,426.1 325.0,426.1 M64.0,426.6C70.7,426.9 77.4,427.9 84.1,429.2C89.4,430.2 94.8,432.1 100.1,433.5C104.4,434.6 108.7,436.0 113.0,436.8C115.1,437.2 117.3,437.3 119.4,437.1C122.1,436.9 124.7,435.2 127.4,433.6C130.6,431.6 133.9,427.7 137.1,425.3C140.3,422.9 143.5,420.2 146.7,418.8C149.9,417.4 153.2,416.2 156.4,415.6C157.4,415.4 158.4,415.2 159.4,415.2C163.3,415.1 167.1,415.3 171.0,415.8C176.4,416.5 181.7,418.4 187.1,420.2C192.5,422.0 197.8,425.5 203.2,426.7C207.5,427.7 211.9,428.4 216.2,428.5C221.5,428.6 226.8,427.1 232.1,427.5C237.4,427.9 242.8,430.2 248.1,431.8C253.7,433.4 259.4,436.5 265.0,437.2C268.7,437.7 272.5,437.0 276.2,436.2C281.6,435.1 286.9,433.0 292.3,431.6C297.6,430.2 303.0,428.5 308.3,427.8C313.9,427.1 319.4,426.6 325.0,426.6 M64.0,451.9C70.7,451.8 77.4,451.1 84.1,450.3C89.4,449.7 94.8,448.4 100.1,447.1C105.5,445.8 110.8,443.4 116.2,442.3C121.6,441.2 126.9,440.2 132.3,439.9C141.3,439.4 150.4,438.8 159.4,438.9C166.0,439.0 172.5,439.3 179.1,439.7C184.4,440.0 189.8,441.3 195.1,441.3C202.1,441.4 209.2,440.2 216.2,440.2C222.6,440.2 228.9,440.5 235.3,440.5C240.7,440.5 246.0,439.8 251.4,439.7C254.3,439.6 257.2,440.0 260.1,440.5C265.5,441.4 270.8,443.9 276.2,445.3C281.6,446.7 286.9,448.4 292.3,449.3C297.6,450.2 303.0,451.1 308.3,451.4C313.9,451.7 319.4,451.8 325.0,451.6 M64.0,451.9C73.4,452.3 82.7,452.2 92.1,451.1C97.5,450.5 102.8,448.8 108.2,447.9C113.5,447.0 118.9,445.9 124.2,445.5C129.6,445.1 134.9,444.9 140.3,444.7C146.7,444.5 153.0,444.2 159.4,444.1C166.0,444.0 172.5,444.2 179.1,444.0C184.4,443.9 189.8,443.3 195.1,442.9C202.1,442.4 209.2,441.3 216.2,441.3C222.6,441.3 228.9,442.2 235.3,442.6C240.7,442.9 246.0,443.2 251.4,443.5C254.3,443.7 257.2,443.7 260.1,444.0C265.5,444.5 270.8,447.6 276.2,449.3C281.6,451.0 286.9,453.1 292.3,454.2C297.6,455.3 303.0,456.2 308.3,456.6C313.9,457.0 319.4,457.3 325.0,457.2 M64.0,457.1C70.7,457.1 77.4,456.6 84.1,456.0C89.4,455.5 94.8,453.7 100.1,453.5C108.1,453.2 116.2,453.4 124.2,453.2C129.6,453.1 134.9,453.0 140.3,452.7C146.7,452.4 153.0,451.6 159.4,451.0C166.0,450.4 172.5,450.1 179.1,449.3C184.4,448.7 189.8,446.9 195.1,446.1C202.1,445.1 209.2,444.1 216.2,444.5C222.6,444.9 228.9,446.5 235.3,447.7C240.7,448.7 246.0,450.1 251.4,451.0C255.9,451.7 260.5,452.5 265.0,452.7C268.7,452.9 272.5,453.1 276.2,453.0C281.6,452.9 286.9,452.8 292.3,452.6C297.6,452.4 303.0,452.3 308.3,452.1C313.9,451.9 319.4,451.8 325.0,451.6 M64.0,457.1C73.4,456.6 82.7,455.9 92.1,455.1C97.5,454.7 102.8,453.6 108.2,453.5C116.2,453.3 124.3,453.3 132.3,453.2C141.3,453.1 150.4,453.0 159.4,452.8C166.0,452.7 172.5,452.1 179.1,451.4C184.4,450.8 189.8,448.6 195.1,447.7C202.1,446.5 209.2,444.9 216.2,445.0C221.5,445.1 226.8,446.1 232.1,446.9C238.5,447.8 245.0,449.0 251.4,450.1C255.9,450.9 260.5,451.7 265.0,452.4C268.7,453.0 272.5,453.7 276.2,454.2C281.6,454.9 286.9,455.4 292.3,455.8C297.6,456.2 303.0,456.7 308.3,456.9C313.9,457.1 319.4,457.2 325.0,457.2 M64.0,501.3C68.0,501.4 72.0,501.4 76.0,501.4C81.4,501.4 86.7,501.1 92.1,500.8C93.7,500.7 95.4,500.0 97.0,499.0C98.0,498.4 99.1,496.5 100.1,495.0C101.2,493.5 102.3,491.4 103.4,490.0C104.6,488.5 105.8,487.1 107.0,486.0C108.5,484.7 109.9,483.6 111.4,482.5C114.6,480.0 117.8,476.9 121.0,475.3C123.7,473.9 126.4,472.6 129.1,472.5C132.8,472.4 136.6,472.9 140.3,473.7C144.0,474.5 147.8,476.3 151.5,476.9C154.1,477.3 156.8,477.6 159.4,477.8C163.3,478.1 167.1,478.3 171.0,478.5C175.3,478.7 179.6,478.8 183.9,478.5C187.6,478.2 191.4,473.8 195.1,472.0C198.9,470.2 202.6,468.0 206.4,467.2C209.7,466.5 212.9,466.2 216.2,466.4C219.9,466.7 223.6,468.0 227.3,469.6C230.5,471.0 233.7,474.3 236.9,476.1C239.0,477.3 241.2,479.1 243.3,479.0C246.0,478.9 248.7,478.1 251.4,477.7C255.2,477.1 259.0,476.4 262.8,476.0C266.7,475.6 270.6,477.5 274.5,479.5C277.8,481.2 281.0,485.7 284.3,489.2C286.9,491.9 289.4,496.7 292.0,498.0C295.3,499.7 298.5,500.7 301.8,500.9C309.5,501.5 317.3,502.0 325.0,501.3 M64.0,542.1C66.0,542.0 68.0,541.2 70.0,540.5C72.0,539.8 74.0,538.7 76.0,536.9C78.7,534.5 81.4,529.5 84.1,525.7C86.8,522.0 89.4,518.5 92.1,514.5C93.4,512.5 94.7,510.4 96.0,508.0C97.0,506.2 98.0,503.9 99.0,502.0C100.5,499.2 101.9,496.6 103.4,494.0C104.6,491.9 105.8,489.5 107.0,488.0C108.5,486.2 109.9,484.9 111.4,483.6C114.6,480.8 117.8,477.6 121.0,476.0C123.7,474.7 126.4,473.2 129.1,473.2C132.8,473.2 136.6,473.6 140.3,474.4C144.0,475.2 147.8,476.9 151.5,477.5C154.1,478.0 156.8,478.3 159.4,478.5C163.3,478.8 167.1,479.0 171.0,479.2C175.3,479.4 179.6,479.5 183.9,479.2C187.6,478.9 191.4,474.5 195.1,472.7C198.9,470.9 202.6,468.7 206.4,467.9C209.7,467.2 212.9,466.9 216.2,467.1C219.9,467.3 223.6,468.6 227.3,470.2C230.5,471.6 233.7,474.9 236.9,476.7C239.0,477.9 241.2,479.7 243.3,479.6C246.0,479.5 248.7,478.7 251.4,478.3C255.2,477.7 259.0,477.0 262.8,476.7C266.7,476.4 270.6,478.5 274.5,480.3C277.8,481.8 281.0,486.1 284.3,490.0C287.5,493.8 290.8,499.2 294.0,504.8C297.2,510.4 300.5,519.0 303.7,524.3C307.0,529.7 310.2,534.2 313.5,537.9C316.1,540.8 318.6,543.5 321.2,545.7C322.5,546.8 323.7,547.8 325.0,548.6 M64.0,514.8C68.0,514.9 72.0,514.6 76.0,514.3C80.3,514.0 84.6,513.1 88.9,512.2C91.6,511.6 94.2,510.6 96.9,509.8C100.7,508.7 104.4,507.5 108.2,506.6C113.5,505.3 118.9,504.6 124.2,503.4C129.6,502.2 134.9,500.5 140.3,499.3C143.5,498.6 146.8,497.8 150.0,497.5C153.1,497.2 156.3,497.1 159.4,496.9C163.3,496.6 167.1,496.5 171.0,496.1C173.7,495.8 176.4,493.8 179.1,492.9C183.4,491.6 187.6,489.7 191.9,489.7C196.7,489.7 201.6,491.1 206.4,492.1C209.7,492.8 212.9,494.0 216.2,494.5C219.9,495.1 223.6,493.9 227.3,494.5C231.4,495.2 235.4,497.6 239.5,498.9C246.0,501.0 252.4,503.8 258.9,504.8C262.2,505.3 265.4,505.7 268.7,505.8C271.9,505.9 275.2,505.7 278.4,505.8C281.6,505.9 284.9,506.8 288.1,507.7C291.4,508.6 294.6,510.7 297.9,511.6C301.1,512.5 304.4,513.2 307.6,513.5C313.4,514.0 319.2,514.6 325.0,514.5 M64.0,549.0C66.0,548.8 68.0,547.9 70.0,547.0C72.0,546.1 74.0,544.4 76.0,542.5C78.7,540.0 81.4,536.0 84.1,532.0C86.8,528.0 89.4,522.9 92.1,518.0C93.4,515.6 94.7,512.1 96.0,510.5C97.4,508.8 98.7,507.4 100.1,507.0C101.7,506.6 103.4,506.1 105.0,506.0C108.7,505.8 112.5,506.2 116.2,505.8C120.8,505.3 125.4,504.2 130.0,503.5C133.4,503.0 136.9,502.4 140.3,502.1C146.7,501.6 153.0,502.2 159.4,501.8C166.0,501.3 172.5,500.0 179.1,498.5C184.4,497.3 189.8,495.0 195.1,493.7C198.9,492.8 202.6,492.1 206.4,491.3C209.7,490.6 212.9,489.8 216.2,489.4C219.9,488.9 223.6,490.2 227.3,489.7C229.2,489.4 231.1,488.6 233.0,488.0C235.9,487.1 238.8,485.8 241.7,485.4C244.9,484.9 248.2,487.4 251.4,489.5C255.9,492.4 260.3,498.1 264.8,501.9C269.3,505.7 273.9,508.9 278.4,512.6C282.9,516.3 287.5,520.5 292.0,524.3C295.9,527.6 299.8,531.2 303.7,534.0C307.0,536.3 310.2,538.8 313.5,539.8C317.3,541.0 321.2,541.9 325.0,541.8 M64.0,544.2C68.0,543.5 72.0,542.3 76.0,541.0C81.4,539.3 86.7,536.9 92.1,534.5C97.5,532.1 102.8,529.3 108.2,526.5C113.5,523.7 118.9,520.6 124.2,517.7C129.6,514.7 134.9,511.0 140.3,508.8C145.7,506.6 151.0,505.9 156.4,504.0C157.4,503.6 158.4,503.0 159.4,502.8C163.3,502.1 167.1,502.7 171.0,502.1C176.4,501.2 181.7,499.6 187.1,498.8C192.5,498.0 197.8,496.9 203.2,496.9C207.5,496.9 211.9,497.3 216.2,497.7C222.6,498.2 228.9,498.9 235.3,500.1C240.2,501.0 245.1,503.2 250.0,504.5C253.3,505.4 256.7,506.1 260.0,507.0C263.5,508.0 267.1,508.9 270.6,510.6C274.5,512.5 278.4,517.3 282.3,520.4C287.5,524.5 292.7,528.2 297.9,532.0C302.4,535.3 307.0,539.9 311.5,541.8C316.0,543.7 320.5,544.2 325.0,543.7 M64.0,549.0C68.0,548.8 72.0,547.7 76.0,546.6C81.4,545.1 86.7,542.1 92.1,539.3C97.5,536.5 102.8,533.0 108.2,529.7C113.5,526.4 118.9,522.7 124.2,519.3C129.6,515.9 134.9,511.7 140.3,509.5C145.7,507.3 151.0,506.0 156.4,504.5C157.4,504.2 158.4,503.8 159.4,503.7C163.3,503.1 167.1,503.5 171.0,503.0C176.4,502.2 181.7,500.9 187.1,500.0C192.5,499.1 197.8,498.2 203.2,497.5C207.5,496.9 211.9,496.4 216.2,496.3C222.6,496.2 228.9,497.9 235.3,499.5C240.2,500.7 245.1,503.1 250.0,505.0C254.0,506.6 258.0,507.9 262.0,510.0C265.3,511.8 268.7,515.1 272.0,518.0C276.1,521.6 280.2,526.5 284.3,530.0C288.8,533.8 293.4,537.3 297.9,540.0C301.9,542.4 306.0,544.9 310.0,546.0C315.0,547.3 320.0,548.6 325.0,548.6 M64.0,577.1C68.0,572.6 72.0,568.3 76.0,564.2C81.4,558.7 86.7,553.0 92.1,548.2C97.5,543.4 102.8,538.8 108.2,535.3C113.5,531.9 118.9,528.7 124.2,526.5C129.6,524.3 134.9,521.7 140.3,520.9C145.7,520.1 151.0,519.2 156.4,519.2C157.4,519.2 158.4,519.2 159.4,519.2C168.6,519.3 177.9,519.5 187.1,519.7C196.8,519.9 206.5,520.3 216.2,520.7C222.6,520.9 228.9,521.3 235.3,521.8C240.7,522.3 246.0,524.3 251.4,525.8C255.9,527.1 260.5,528.8 265.0,530.7C269.5,532.6 273.9,535.2 278.4,537.9C284.9,541.8 291.4,546.5 297.9,551.5C303.1,555.5 308.3,560.2 313.5,565.1C317.3,568.7 321.2,572.9 325.0,577.2 M64.0,577.1C68.0,573.8 72.0,570.6 76.0,567.4C81.4,563.1 86.7,558.3 92.1,554.6C97.5,550.9 102.8,547.9 108.2,545.0C113.5,542.1 118.9,538.7 124.2,536.9C129.6,535.1 134.9,533.6 140.3,532.9C146.7,532.1 153.0,531.2 159.4,531.1C168.6,530.9 177.9,530.7 187.1,530.7C196.8,530.8 206.5,530.9 216.2,531.0C222.6,531.1 228.9,531.3 235.3,531.5C240.7,531.7 246.0,532.9 251.4,533.9C255.9,534.7 260.5,536.5 265.0,538.7C272.7,542.5 280.4,550.1 288.1,555.4C294.6,559.8 301.1,564.3 307.6,568.1C313.4,571.5 319.2,574.6 325.0,577.2 M64.0,577.1C68.0,574.2 72.0,571.3 76.0,568.3C81.4,564.3 86.7,559.8 92.1,556.2C97.5,552.6 102.8,549.3 108.2,546.6C113.5,543.9 118.9,541.1 124.2,539.3C129.6,537.5 134.9,535.5 140.3,535.0C146.7,534.4 153.0,534.3 159.4,533.8C163.3,533.5 167.1,533.1 171.0,532.6C176.4,531.9 181.7,530.4 187.1,529.1C192.5,527.8 197.8,525.7 203.2,525.0C207.5,524.4 211.9,524.1 216.2,524.2C221.5,524.3 226.8,525.0 232.1,525.8C237.4,526.6 242.8,528.6 248.1,530.7C255.0,533.4 261.8,537.6 268.7,541.8C275.2,545.8 281.6,551.0 288.1,555.4" stroke="#000" stroke-opacity="0.13" stroke-width="2.60" fill="none" stroke-linejoin="round"/>
<path d="M64.0,351.7C70.7,351.6 77.4,352.6 84.1,353.8C89.4,354.8 94.8,357.2 100.1,359.5C105.5,361.8 110.8,365.0 116.2,367.5C121.6,370.0 126.9,373.0 132.3,374.7C137.6,376.4 143.0,378.0 148.3,378.4C152.0,378.7 155.7,378.9 159.4,379.1C166.0,379.4 172.5,379.4 179.1,379.8C184.4,380.1 189.8,381.0 195.1,381.4C202.1,382.0 209.2,382.5 216.2,382.6C221.5,382.6 226.8,381.5 232.1,380.5C237.4,379.5 242.8,377.5 248.1,376.0C254.8,374.1 261.5,372.3 268.2,369.9C273.5,368.0 278.9,365.0 284.2,362.7C289.6,360.4 294.9,357.9 300.3,356.2C305.7,354.5 311.0,352.8 316.4,352.2C319.3,351.9 322.1,351.6 325.0,351.7 M64.0,356.6C70.7,356.4 77.4,357.3 84.1,358.7C89.4,359.8 94.8,362.6 100.1,365.1C105.5,367.6 110.8,370.8 116.2,373.9C120.5,376.4 124.8,379.3 129.1,381.6C132.8,383.6 136.6,385.9 140.3,386.8C144.6,387.9 148.8,388.5 153.1,389.2C155.2,389.5 157.3,390.0 159.4,390.2C166.0,390.8 172.5,391.1 179.1,391.5C184.4,391.8 189.8,392.0 195.1,392.3C202.1,392.7 209.2,393.3 216.2,393.6C221.5,393.8 226.8,392.6 232.1,391.5C237.4,390.4 242.8,387.9 248.1,385.9C253.7,383.8 259.4,381.7 265.0,379.1C271.4,376.2 277.8,372.4 284.2,369.1C289.6,366.4 294.9,363.2 300.3,361.1C305.7,359.0 311.0,357.0 316.4,356.2C319.3,355.8 322.1,355.4 325.0,355.4 M64.0,395.1C70.7,394.8 77.4,393.7 84.1,392.4C89.4,391.4 94.8,389.2 100.1,388.0C105.5,386.8 110.8,385.6 116.2,385.1C120.5,384.7 124.8,384.4 129.1,384.7C132.8,384.9 136.6,385.8 140.3,386.0C146.7,386.4 153.0,386.8 159.4,386.9C166.0,387.0 172.5,387.1 179.1,387.0C184.4,386.9 189.8,386.5 195.1,386.3C202.1,386.1 209.2,386.0 216.2,386.0C221.5,386.0 226.8,386.5 232.1,386.9C236.1,387.2 240.1,388.2 244.1,388.4C252.1,388.8 260.2,387.5 268.2,387.6C273.5,387.7 278.9,388.4 284.2,389.2C289.6,390.0 294.9,392.3 300.3,393.2C305.7,394.1 311.0,394.9 316.4,395.1C319.3,395.2 322.1,395.2 325.0,395.1 M129.1,384.7C132.8,384.9 136.6,386.4 140.3,386.4C146.7,386.5 153.0,385.7 159.4,385.8C166.0,386.0 172.5,386.4 179.1,386.5C184.4,386.6 189.8,386.4 195.1,386.5C202.1,386.7 209.2,387.2 216.2,387.5C221.5,387.7 226.8,387.8 232.1,388.0C238.1,388.2 244.0,388.6 250.0,389.0C256.7,389.4 263.3,389.9 270.0,390.5C276.7,391.1 283.3,392.3 290.0,393.0C296.7,393.7 303.3,394.3 310.0,394.6C315.0,394.8 320.0,395.1 325.0,395.1 M64.0,395.1C78.7,395.3 93.5,395.7 108.2,396.1C118.9,396.4 129.6,396.8 140.3,397.2C146.7,397.4 153.0,397.9 159.4,397.9C166.0,397.9 172.5,397.4 179.1,397.1C184.4,396.9 189.8,396.5 195.1,396.3C202.1,396.1 209.2,397.7 216.2,397.6C221.5,397.5 226.8,396.3 232.1,395.5C236.1,394.9 240.1,393.8 244.1,393.4C249.4,392.9 254.8,392.7 260.1,392.9C268.1,393.3 276.2,394.5 284.2,394.8C297.8,395.3 311.4,395.4 325.0,395.1 M140.3,397.2C146.7,397.4 153.0,397.8 159.4,397.9C166.0,398.0 172.5,397.6 179.1,397.5C191.5,397.4 203.8,398.1 216.2,398.0C222.8,398.0 229.5,396.7 236.1,395.8C240.7,395.2 245.4,393.7 250.0,393.5C255.0,393.3 260.0,393.4 265.0,393.6C273.3,393.9 281.7,394.6 290.0,394.8C301.7,395.1 313.3,395.2 325.0,395.1 M64.0,426.2C70.7,426.5 77.4,427.5 84.1,428.7C89.4,429.6 94.8,431.4 100.1,432.7C104.4,433.7 108.7,434.8 113.0,435.6C115.1,436.0 117.3,436.1 119.4,436.0C122.1,435.9 124.7,434.3 127.4,432.7C130.6,430.8 133.9,427.0 137.1,424.6C140.3,422.2 143.5,419.6 146.7,418.2C149.9,416.8 153.2,415.8 156.4,415.1C157.4,414.9 158.4,414.7 159.4,414.6C163.3,414.4 167.1,414.7 171.0,415.2C176.4,415.9 181.7,417.8 187.1,419.6C192.5,421.4 197.8,424.8 203.2,426.1C207.5,427.1 211.9,427.9 216.2,428.0C221.5,428.1 226.8,426.6 232.1,426.9C237.4,427.3 242.8,429.4 248.1,430.9C253.7,432.5 259.4,435.6 265.0,436.2C268.7,436.6 272.5,436.0 276.2,435.2C281.6,434.1 286.9,432.2 292.3,430.9C297.6,429.6 303.0,428.0 308.3,427.3C313.9,426.6 319.4,426.1 325.0,426.1 M64.0,426.6C70.7,426.9 77.4,427.9 84.1,429.2C89.4,430.2 94.8,432.1 100.1,433.5C104.4,434.6 108.7,436.0 113.0,436.8C115.1,437.2 117.3,437.3 119.4,437.1C122.1,436.9 124.7,435.2 127.4,433.6C130.6,431.6 133.9,427.7 137.1,425.3C140.3,422.9 143.5,420.2 146.7,418.8C149.9,417.4 153.2,416.2 156.4,415.6C157.4,415.4 158.4,415.2 159.4,415.2C163.3,415.1 167.1,415.3 171.0,415.8C176.4,416.5 181.7,418.4 187.1,420.2C192.5,422.0 197.8,425.5 203.2,426.7C207.5,427.7 211.9,428.4 216.2,428.5C221.5,428.6 226.8,427.1 232.1,427.5C237.4,427.9 242.8,430.2 248.1,431.8C253.7,433.4 259.4,436.5 265.0,437.2C268.7,437.7 272.5,437.0 276.2,436.2C281.6,435.1 286.9,433.0 292.3,431.6C297.6,430.2 303.0,428.5 308.3,427.8C313.9,427.1 319.4,426.6 325.0,426.6 M64.0,451.9C70.7,451.8 77.4,451.1 84.1,450.3C89.4,449.7 94.8,448.4 100.1,447.1C105.5,445.8 110.8,443.4 116.2,442.3C121.6,441.2 126.9,440.2 132.3,439.9C141.3,439.4 150.4,438.8 159.4,438.9C166.0,439.0 172.5,439.3 179.1,439.7C184.4,440.0 189.8,441.3 195.1,441.3C202.1,441.4 209.2,440.2 216.2,440.2C222.6,440.2 228.9,440.5 235.3,440.5C240.7,440.5 246.0,439.8 251.4,439.7C254.3,439.6 257.2,440.0 260.1,440.5C265.5,441.4 270.8,443.9 276.2,445.3C281.6,446.7 286.9,448.4 292.3,449.3C297.6,450.2 303.0,451.1 308.3,451.4C313.9,451.7 319.4,451.8 325.0,451.6 M64.0,451.9C73.4,452.3 82.7,452.2 92.1,451.1C97.5,450.5 102.8,448.8 108.2,447.9C113.5,447.0 118.9,445.9 124.2,445.5C129.6,445.1 134.9,444.9 140.3,444.7C146.7,444.5 153.0,444.2 159.4,444.1C166.0,444.0 172.5,444.2 179.1,444.0C184.4,443.9 189.8,443.3 195.1,442.9C202.1,442.4 209.2,441.3 216.2,441.3C222.6,441.3 228.9,442.2 235.3,442.6C240.7,442.9 246.0,443.2 251.4,443.5C254.3,443.7 257.2,443.7 260.1,444.0C265.5,444.5 270.8,447.6 276.2,449.3C281.6,451.0 286.9,453.1 292.3,454.2C297.6,455.3 303.0,456.2 308.3,456.6C313.9,457.0 319.4,457.3 325.0,457.2 M64.0,457.1C70.7,457.1 77.4,456.6 84.1,456.0C89.4,455.5 94.8,453.7 100.1,453.5C108.1,453.2 116.2,453.4 124.2,453.2C129.6,453.1 134.9,453.0 140.3,452.7C146.7,452.4 153.0,451.6 159.4,451.0C166.0,450.4 172.5,450.1 179.1,449.3C184.4,448.7 189.8,446.9 195.1,446.1C202.1,445.1 209.2,444.1 216.2,444.5C222.6,444.9 228.9,446.5 235.3,447.7C240.7,448.7 246.0,450.1 251.4,451.0C255.9,451.7 260.5,452.5 265.0,452.7C268.7,452.9 272.5,453.1 276.2,453.0C281.6,452.9 286.9,452.8 292.3,452.6C297.6,452.4 303.0,452.3 308.3,452.1C313.9,451.9 319.4,451.8 325.0,451.6 M64.0,457.1C73.4,456.6 82.7,455.9 92.1,455.1C97.5,454.7 102.8,453.6 108.2,453.5C116.2,453.3 124.3,453.3 132.3,453.2C141.3,453.1 150.4,453.0 159.4,452.8C166.0,452.7 172.5,452.1 179.1,451.4C184.4,450.8 189.8,448.6 195.1,447.7C202.1,446.5 209.2,444.9 216.2,445.0C221.5,445.1 226.8,446.1 232.1,446.9C238.5,447.8 245.0,449.0 251.4,450.1C255.9,450.9 260.5,451.7 265.0,452.4C268.7,453.0 272.5,453.7 276.2,454.2C281.6,454.9 286.9,455.4 292.3,455.8C297.6,456.2 303.0,456.7 308.3,456.9C313.9,457.1 319.4,457.2 325.0,457.2 M64.0,501.3C68.0,501.4 72.0,501.4 76.0,501.4C81.4,501.4 86.7,501.1 92.1,500.8C93.7,500.7 95.4,500.0 97.0,499.0C98.0,498.4 99.1,496.5 100.1,495.0C101.2,493.5 102.3,491.4 103.4,490.0C104.6,488.5 105.8,487.1 107.0,486.0C108.5,484.7 109.9,483.6 111.4,482.5C114.6,480.0 117.8,476.9 121.0,475.3C123.7,473.9 126.4,472.6 129.1,472.5C132.8,472.4 136.6,472.9 140.3,473.7C144.0,474.5 147.8,476.3 151.5,476.9C154.1,477.3 156.8,477.6 159.4,477.8C163.3,478.1 167.1,478.3 171.0,478.5C175.3,478.7 179.6,478.8 183.9,478.5C187.6,478.2 191.4,473.8 195.1,472.0C198.9,470.2 202.6,468.0 206.4,467.2C209.7,466.5 212.9,466.2 216.2,466.4C219.9,466.7 223.6,468.0 227.3,469.6C230.5,471.0 233.7,474.3 236.9,476.1C239.0,477.3 241.2,479.1 243.3,479.0C246.0,478.9 248.7,478.1 251.4,477.7C255.2,477.1 259.0,476.4 262.8,476.0C266.7,475.6 270.6,477.5 274.5,479.5C277.8,481.2 281.0,485.7 284.3,489.2C286.9,491.9 289.4,496.7 292.0,498.0C295.3,499.7 298.5,500.7 301.8,500.9C309.5,501.5 317.3,502.0 325.0,501.3 M64.0,542.1C66.0,542.0 68.0,541.2 70.0,540.5C72.0,539.8 74.0,538.7 76.0,536.9C78.7,534.5 81.4,529.5 84.1,525.7C86.8,522.0 89.4,518.5 92.1,514.5C93.4,512.5 94.7,510.4 96.0,508.0C97.0,506.2 98.0,503.9 99.0,502.0C100.5,499.2 101.9,496.6 103.4,494.0C104.6,491.9 105.8,489.5 107.0,488.0C108.5,486.2 109.9,484.9 111.4,483.6C114.6,480.8 117.8,477.6 121.0,476.0C123.7,474.7 126.4,473.2 129.1,473.2C132.8,473.2 136.6,473.6 140.3,474.4C144.0,475.2 147.8,476.9 151.5,477.5C154.1,478.0 156.8,478.3 159.4,478.5C163.3,478.8 167.1,479.0 171.0,479.2C175.3,479.4 179.6,479.5 183.9,479.2C187.6,478.9 191.4,474.5 195.1,472.7C198.9,470.9 202.6,468.7 206.4,467.9C209.7,467.2 212.9,466.9 216.2,467.1C219.9,467.3 223.6,468.6 227.3,470.2C230.5,471.6 233.7,474.9 236.9,476.7C239.0,477.9 241.2,479.7 243.3,479.6C246.0,479.5 248.7,478.7 251.4,478.3C255.2,477.7 259.0,477.0 262.8,476.7C266.7,476.4 270.6,478.5 274.5,480.3C277.8,481.8 281.0,486.1 284.3,490.0C287.5,493.8 290.8,499.2 294.0,504.8C297.2,510.4 300.5,519.0 303.7,524.3C307.0,529.7 310.2,534.2 313.5,537.9C316.1,540.8 318.6,543.5 321.2,545.7C322.5,546.8 323.7,547.8 325.0,548.6 M64.0,514.8C68.0,514.9 72.0,514.6 76.0,514.3C80.3,514.0 84.6,513.1 88.9,512.2C91.6,511.6 94.2,510.6 96.9,509.8C100.7,508.7 104.4,507.5 108.2,506.6C113.5,505.3 118.9,504.6 124.2,503.4C129.6,502.2 134.9,500.5 140.3,499.3C143.5,498.6 146.8,497.8 150.0,497.5C153.1,497.2 156.3,497.1 159.4,496.9C163.3,496.6 167.1,496.5 171.0,496.1C173.7,495.8 176.4,493.8 179.1,492.9C183.4,491.6 187.6,489.7 191.9,489.7C196.7,489.7 201.6,491.1 206.4,492.1C209.7,492.8 212.9,494.0 216.2,494.5C219.9,495.1 223.6,493.9 227.3,494.5C231.4,495.2 235.4,497.6 239.5,498.9C246.0,501.0 252.4,503.8 258.9,504.8C262.2,505.3 265.4,505.7 268.7,505.8C271.9,505.9 275.2,505.7 278.4,505.8C281.6,505.9 284.9,506.8 288.1,507.7C291.4,508.6 294.6,510.7 297.9,511.6C301.1,512.5 304.4,513.2 307.6,513.5C313.4,514.0 319.2,514.6 325.0,514.5 M64.0,549.0C66.0,548.8 68.0,547.9 70.0,547.0C72.0,546.1 74.0,544.4 76.0,542.5C78.7,540.0 81.4,536.0 84.1,532.0C86.8,528.0 89.4,522.9 92.1,518.0C93.4,515.6 94.7,512.1 96.0,510.5C97.4,508.8 98.7,507.4 100.1,507.0C101.7,506.6 103.4,506.1 105.0,506.0C108.7,505.8 112.5,506.2 116.2,505.8C120.8,505.3 125.4,504.2 130.0,503.5C133.4,503.0 136.9,502.4 140.3,502.1C146.7,501.6 153.0,502.2 159.4,501.8C166.0,501.3 172.5,500.0 179.1,498.5C184.4,497.3 189.8,495.0 195.1,493.7C198.9,492.8 202.6,492.1 206.4,491.3C209.7,490.6 212.9,489.8 216.2,489.4C219.9,488.9 223.6,490.2 227.3,489.7C229.2,489.4 231.1,488.6 233.0,488.0C235.9,487.1 238.8,485.8 241.7,485.4C244.9,484.9 248.2,487.4 251.4,489.5C255.9,492.4 260.3,498.1 264.8,501.9C269.3,505.7 273.9,508.9 278.4,512.6C282.9,516.3 287.5,520.5 292.0,524.3C295.9,527.6 299.8,531.2 303.7,534.0C307.0,536.3 310.2,538.8 313.5,539.8C317.3,541.0 321.2,541.9 325.0,541.8 M64.0,544.2C68.0,543.5 72.0,542.3 76.0,541.0C81.4,539.3 86.7,536.9 92.1,534.5C97.5,532.1 102.8,529.3 108.2,526.5C113.5,523.7 118.9,520.6 124.2,517.7C129.6,514.7 134.9,511.0 140.3,508.8C145.7,506.6 151.0,505.9 156.4,504.0C157.4,503.6 158.4,503.0 159.4,502.8C163.3,502.1 167.1,502.7 171.0,502.1C176.4,501.2 181.7,499.6 187.1,498.8C192.5,498.0 197.8,496.9 203.2,496.9C207.5,496.9 211.9,497.3 216.2,497.7C222.6,498.2 228.9,498.9 235.3,500.1C240.2,501.0 245.1,503.2 250.0,504.5C253.3,505.4 256.7,506.1 260.0,507.0C263.5,508.0 267.1,508.9 270.6,510.6C274.5,512.5 278.4,517.3 282.3,520.4C287.5,524.5 292.7,528.2 297.9,532.0C302.4,535.3 307.0,539.9 311.5,541.8C316.0,543.7 320.5,544.2 325.0,543.7 M64.0,549.0C68.0,548.8 72.0,547.7 76.0,546.6C81.4,545.1 86.7,542.1 92.1,539.3C97.5,536.5 102.8,533.0 108.2,529.7C113.5,526.4 118.9,522.7 124.2,519.3C129.6,515.9 134.9,511.7 140.3,509.5C145.7,507.3 151.0,506.0 156.4,504.5C157.4,504.2 158.4,503.8 159.4,503.7C163.3,503.1 167.1,503.5 171.0,503.0C176.4,502.2 181.7,500.9 187.1,500.0C192.5,499.1 197.8,498.2 203.2,497.5C207.5,496.9 211.9,496.4 216.2,496.3C222.6,496.2 228.9,497.9 235.3,499.5C240.2,500.7 245.1,503.1 250.0,505.0C254.0,506.6 258.0,507.9 262.0,510.0C265.3,511.8 268.7,515.1 272.0,518.0C276.1,521.6 280.2,526.5 284.3,530.0C288.8,533.8 293.4,537.3 297.9,540.0C301.9,542.4 306.0,544.9 310.0,546.0C315.0,547.3 320.0,548.6 325.0,548.6 M64.0,577.1C68.0,572.6 72.0,568.3 76.0,564.2C81.4,558.7 86.7,553.0 92.1,548.2C97.5,543.4 102.8,538.8 108.2,535.3C113.5,531.9 118.9,528.7 124.2,526.5C129.6,524.3 134.9,521.7 140.3,520.9C145.7,520.1 151.0,519.2 156.4,519.2C157.4,519.2 158.4,519.2 159.4,519.2C168.6,519.3 177.9,519.5 187.1,519.7C196.8,519.9 206.5,520.3 216.2,520.7C222.6,520.9 228.9,521.3 235.3,521.8C240.7,522.3 246.0,524.3 251.4,525.8C255.9,527.1 260.5,528.8 265.0,530.7C269.5,532.6 273.9,535.2 278.4,537.9C284.9,541.8 291.4,546.5 297.9,551.5C303.1,555.5 308.3,560.2 313.5,565.1C317.3,568.7 321.2,572.9 325.0,577.2 M64.0,577.1C68.0,573.8 72.0,570.6 76.0,567.4C81.4,563.1 86.7,558.3 92.1,554.6C97.5,550.9 102.8,547.9 108.2,545.0C113.5,542.1 118.9,538.7 124.2,536.9C129.6,535.1 134.9,533.6 140.3,532.9C146.7,532.1 153.0,531.2 159.4,531.1C168.6,530.9 177.9,530.7 187.1,530.7C196.8,530.8 206.5,530.9 216.2,531.0C222.6,531.1 228.9,531.3 235.3,531.5C240.7,531.7 246.0,532.9 251.4,533.9C255.9,534.7 260.5,536.5 265.0,538.7C272.7,542.5 280.4,550.1 288.1,555.4C294.6,559.8 301.1,564.3 307.6,568.1C313.4,571.5 319.2,574.6 325.0,577.2 M64.0,577.1C68.0,574.2 72.0,571.3 76.0,568.3C81.4,564.3 86.7,559.8 92.1,556.2C97.5,552.6 102.8,549.3 108.2,546.6C113.5,543.9 118.9,541.1 124.2,539.3C129.6,537.5 134.9,535.5 140.3,535.0C146.7,534.4 153.0,534.3 159.4,533.8C163.3,533.5 167.1,533.1 171.0,532.6C176.4,531.9 181.7,530.4 187.1,529.1C192.5,527.8 197.8,525.7 203.2,525.0C207.5,524.4 211.9,524.1 216.2,524.2C221.5,524.3 226.8,525.0 232.1,525.8C237.4,526.6 242.8,528.6 248.1,530.7C255.0,533.4 261.8,537.6 268.7,541.8C275.2,545.8 281.6,551.0 288.1,555.4" stroke="#161616" stroke-width="1.35" fill="none" stroke-linejoin="round"/>
<path d="M64,577.1h5.6M325,577.1h-5.6M64,558.9h2.6M325,558.9h-2.6M64,540.7h5.6M325,540.7h-5.6M64,522.5h2.6M325,522.5h-2.6M64,504.3h5.6M325,504.3h-5.6M64,486.1h2.6M325,486.1h-2.6M64,467.9h5.6M325,467.9h-5.6M64,449.7h2.6M325,449.7h-2.6M64,431.5h5.6M325,431.5h-5.6M64,413.3h2.6M325,413.3h-2.6M64,395.1h5.6M325,395.1h-5.6M64,376.9h2.6M325,376.9h-2.6M64,358.7h5.6M325,358.7h-5.6M64,340.5h2.6M325,340.5h-2.6" stroke="#222" stroke-width="1.3" fill="none"/>
<rect x="64" y="322.3" width="261" height="273.09999999999997" stroke="#222" stroke-width="1.7" fill="none"/>
<text transform="translate(58,582.2) scale(1,1.12)" class="tl">0</text>
<text transform="translate(58,545.8) scale(1,1.12)" class="tl">5</text>
<text transform="translate(58,509.4) scale(1,1.12)" class="tl">10</text>
<text transform="translate(58,473.0) scale(1,1.12)" class="tl">15</text>
<text transform="translate(58,436.6) scale(1,1.12)" class="tl">20</text>
<text transform="translate(58,400.2) scale(1,1.12)" class="tl">25</text>
<text transform="translate(58,363.8) scale(1,1.12)" class="tl">30</text>
<text transform="translate(58,327.4) scale(1,1.12)" class="tl">35</text>
<text x="63.5" y="615.0" class="xl">Γ</text>
<text x="159.4" y="615.0" class="xl" text-anchor="middle">M</text>
<text x="218.0" y="615.0" class="xl" text-anchor="middle">K</text>
<text x="325.5" y="615.0" class="xl" text-anchor="end">Γ</text>
<text x="69.2" y="336.1" class="pl">(c)</text>
<text x="320.5" y="338" class="ml" text-anchor="end">WSi<tspan class="sub" dy="1">2</tspan><tspan dy="-1">N</tspan><tspan class="sub" dy="1">4</tspan></text>
<text class="yl" transform="translate(14.4,457.2) rotate(-90) scale(1.0,1)" text-anchor="middle">Frequency (THz)</text>
<line x1="424.2" y1="574.3" x2="682" y2="574.3" stroke="#8a8aee" stroke-width="1.4" stroke-dasharray="3,2" fill="none"/>
<line x1="518.8" y1="322.1" x2="518.8" y2="595.4" stroke="#8a8aee" stroke-width="1.4" stroke-dasharray="3,2" fill="none" stroke-dashoffset="-1.1"/>
<line x1="573.4" y1="322.1" x2="573.4" y2="595.4" stroke="#8a8aee" stroke-width="1.4" stroke-dasharray="3,2" fill="none" stroke-dashoffset="-1.1"/>
<path d="M424.3,348.8C430.9,348.7 437.5,349.2 444.1,350.0C449.4,350.7 454.8,352.3 460.1,353.7C465.5,355.1 470.8,357.0 476.2,358.5C481.6,360.0 486.9,361.5 492.3,362.5C496.6,363.3 500.8,364.1 505.1,364.4C509.7,364.7 514.2,364.9 518.8,365.1C526.6,365.4 534.3,365.8 542.1,366.1C552.4,366.5 562.8,366.9 573.1,366.9C578.8,366.9 584.6,366.2 590.3,365.6C595.7,365.1 601.0,364.2 606.4,363.3C612.0,362.4 617.6,361.1 623.2,359.8C628.5,358.5 633.9,356.9 639.2,355.5C644.6,354.1 649.9,352.6 655.3,351.6C660.7,350.6 666.0,349.7 671.4,349.3C674.6,349.1 677.8,348.8 681.0,348.8 M424.3,359.6C430.9,359.3 437.5,360.0 444.1,360.9C449.4,361.7 454.8,363.6 460.1,365.7C465.5,367.8 470.8,371.2 476.2,373.7C480.5,375.7 484.8,377.4 489.1,379.3C492.8,380.9 496.6,382.9 500.3,384.2C503.5,385.3 506.7,386.6 509.9,386.9C512.9,387.2 515.8,387.4 518.8,387.6C526.6,388.2 534.3,388.6 542.1,389.3C547.5,389.8 552.8,390.6 558.2,391.0C563.2,391.4 568.1,391.5 573.1,391.4C579.1,391.3 585.1,390.4 591.1,389.5C596.4,388.7 601.8,387.0 607.1,385.0C612.5,383.0 617.8,379.7 623.2,376.9C628.5,374.1 633.9,370.6 639.2,368.1C644.6,365.6 649.9,362.7 655.3,361.7C660.7,360.7 666.0,359.9 671.4,359.6C674.6,359.4 677.8,359.3 681.0,359.3 M424.3,392.2C429.3,392.5 434.3,392.3 439.3,391.4C443.6,390.6 447.8,388.8 452.1,387.4C457.5,385.6 462.8,383.7 468.2,381.8C472.5,380.3 476.7,378.8 481.0,377.3C484.8,376.0 488.5,374.5 492.3,373.4C496.6,372.2 500.8,370.9 505.1,370.5C509.7,370.1 514.2,369.8 518.8,369.9C526.6,370.1 534.3,370.7 542.1,371.5C547.5,372.0 552.8,373.4 558.2,373.9C563.2,374.3 568.1,374.8 573.1,374.7C579.1,374.6 585.1,373.9 591.1,373.8C596.4,373.7 601.8,374.3 607.1,374.8C612.5,375.3 617.8,376.8 623.2,378.3C628.5,379.8 633.9,382.1 639.2,384.0C644.6,385.9 649.9,388.2 655.3,389.6C658.5,390.4 661.7,391.2 664.9,391.5C670.3,392.0 675.6,392.3 681.0,392.2 M424.3,392.2C429.3,392.5 434.3,392.4 439.3,391.6C443.6,390.9 447.8,389.3 452.1,387.9C457.5,386.2 462.8,384.3 468.2,382.4C472.5,380.9 476.7,379.4 481.0,377.9C484.8,376.6 488.5,375.0 492.3,374.0C496.6,372.8 500.8,371.6 505.1,371.2C509.7,370.8 514.2,370.5 518.8,370.6C526.6,370.8 534.3,371.4 542.1,372.2C547.5,372.7 552.8,374.2 558.2,374.6C563.2,375.0 568.1,375.4 573.1,375.3C579.1,375.2 585.1,374.5 591.1,374.4C596.4,374.3 601.8,374.9 607.1,375.4C612.5,375.9 617.8,377.4 623.2,378.9C628.5,380.4 633.9,382.7 639.2,384.5C644.6,386.4 649.9,388.6 655.3,390.0C658.5,390.8 661.7,391.5 664.9,391.8C670.3,392.2 675.6,392.4 681.0,392.2 M424.3,392.2C433.6,391.7 442.8,391.1 452.1,390.6C462.8,390.0 473.5,389.1 484.2,388.7C495.7,388.2 507.3,388.0 518.8,387.7C523.9,387.6 529.0,387.5 534.1,387.3C539.4,387.0 544.8,384.2 550.1,382.9C554.4,381.9 558.7,380.8 563.0,380.2C566.4,379.8 569.7,379.4 573.1,379.4C577.8,379.4 582.4,380.0 587.1,380.8C588.4,381.0 589.8,381.5 591.1,381.8C596.4,383.0 601.8,383.9 607.1,385.0C612.5,386.1 617.8,387.3 623.2,388.2C628.5,389.1 633.9,390.2 639.2,390.6C653.1,391.7 667.1,392.4 681.0,392.2 M452.1,390.6C462.8,390.0 473.5,389.2 484.2,388.7C495.7,388.1 507.3,387.6 518.8,387.7C526.6,387.8 534.3,388.6 542.1,389.3M573.1,391.4C578.8,391.3 584.6,390.4 590.3,389.3C594.6,388.5 598.8,386.8 603.1,385.3C608.7,383.4 614.4,380.8 620.0,378.9C622.7,378.0 625.3,377.2 628.0,376.5 M424.3,439.8C430.9,439.0 437.5,438.0 444.1,437.0C452.1,435.7 460.2,434.0 468.2,432.7C476.2,431.4 484.3,429.9 492.3,429.0C497.6,428.4 503.0,427.9 508.3,427.6C511.8,427.4 515.3,427.3 518.8,427.3C526.6,427.3 534.3,428.4 542.1,429.6C547.5,430.4 552.8,432.6 558.2,433.7C563.2,434.7 568.1,436.3 573.1,436.1C579.1,435.9 585.1,433.4 591.1,432.8C596.4,432.2 601.8,431.7 607.1,431.6C612.5,431.5 617.8,431.6 623.2,432.0C628.5,432.4 633.9,433.6 639.2,434.5C644.6,435.4 649.9,436.6 655.3,437.3C663.9,438.5 672.4,439.6 681.0,440.1 M424.3,440.3C430.9,441.3 437.5,442.1 444.1,442.7C449.4,443.2 454.8,443.8 460.1,443.5C465.5,443.2 470.8,441.4 476.2,440.3C481.6,439.2 486.9,437.9 492.3,437.0C497.6,436.2 503.0,435.1 508.3,435.1C511.8,435.1 515.3,435.1 518.8,435.1C526.6,435.2 534.3,435.2 542.1,435.3C552.4,435.4 562.8,435.7 573.1,436.1C578.8,436.3 584.6,436.8 590.3,437.3C595.7,437.8 601.0,438.7 606.4,439.3C612.0,439.9 617.6,440.5 623.2,441.0C628.5,441.5 633.9,442.0 639.2,442.5C644.6,443.0 649.9,443.5 655.3,444.1C663.9,445.0 672.4,446.1 681.0,447.3 M424.3,441.1C430.9,442.1 437.5,443.1 444.1,444.0C449.4,444.7 454.8,445.4 460.1,445.9C465.5,446.4 470.8,446.9 476.2,446.7C481.6,446.5 486.9,445.5 492.3,445.1C501.1,444.4 510.0,444.2 518.8,443.5C526.6,442.9 534.3,442.0 542.1,440.9C547.5,440.1 552.8,438.5 558.2,437.7C563.2,437.0 568.1,436.2 573.1,436.1C579.1,435.9 585.1,436.0 591.1,436.1C596.4,436.2 601.8,436.5 607.1,437.0C612.5,437.5 617.8,439.2 623.2,440.1C628.5,441.0 633.9,442.4 639.2,442.5C644.6,442.6 649.9,442.3 655.3,442.0C663.9,441.6 672.4,441.1 681.0,440.5 M424.3,441.1C433.3,442.8 442.4,444.5 451.4,445.9C457.0,446.8 462.6,447.8 468.2,448.3C472.5,448.7 476.7,449.0 481.0,448.8C484.8,448.6 488.5,448.0 492.3,447.5C497.6,446.8 503.0,445.6 508.3,445.1C511.8,444.7 515.3,444.6 518.8,444.3C523.9,443.9 528.9,443.6 534.0,443.0C539.3,442.4 544.7,440.4 550.0,439.5C557.7,438.1 565.4,436.1 573.1,436.3C579.1,436.4 585.1,437.7 591.1,438.5C596.4,439.2 601.8,440.1 607.1,440.9C612.5,441.7 617.8,442.6 623.2,443.3C628.5,443.9 633.9,444.5 639.2,444.9C644.6,445.3 649.9,445.7 655.3,446.0C663.9,446.5 672.4,447.0 681.0,447.3 M424.3,447.5C430.9,447.3 437.5,446.8 444.1,446.2C449.4,445.7 454.8,444.8 460.1,444.3C465.5,443.8 470.8,443.1 476.2,443.0C481.6,442.9 486.9,442.8 492.3,442.7C501.1,442.6 510.0,442.4 518.8,442.3C523.9,442.3 528.9,442.9 534.0,443.5C539.4,444.2 544.7,446.6 550.1,447.3C555.5,448.0 560.8,448.5 566.2,448.6C568.5,448.6 570.8,448.6 573.1,448.6C578.8,448.5 584.6,448.1 590.3,448.1C595.9,448.1 601.5,448.7 607.1,448.9C615.1,449.2 623.2,449.1 631.2,448.9C636.6,448.7 641.9,447.5 647.3,446.5C652.6,445.5 658.0,443.4 663.3,442.5C669.2,441.5 675.1,440.7 681.0,440.5 M424.3,447.5C433.3,447.4 442.4,447.0 451.4,446.7C462.3,446.3 473.3,445.4 484.2,445.1C495.7,444.8 507.3,444.6 518.8,444.6C523.9,444.6 529.0,444.8 534.1,444.9C539.4,445.0 544.8,444.5 550.1,444.0C557.8,443.2 565.4,437.9 573.1,437.0C578.8,436.3 584.6,435.6 590.3,435.8C595.7,435.9 601.0,436.2 606.4,436.5C612.0,436.8 617.6,437.2 623.2,437.5C628.5,437.8 633.9,438.2 639.2,438.5C644.6,438.8 649.9,439.1 655.3,439.3C663.9,439.6 672.4,439.9 681.0,440.1 M424.3,507.9C430.0,508.1 435.8,508.4 441.5,508.6C447.3,508.8 453.2,509.3 459.0,509.4C461.3,509.5 463.7,508.7 466.0,508.1C468.1,507.6 470.1,506.7 472.2,505.9C474.2,505.1 476.3,504.1 478.3,503.3C480.2,502.5 482.1,501.6 484.0,501.1C486.8,500.4 489.5,499.9 492.3,499.6C496.0,499.2 499.8,498.7 503.5,498.6C508.6,498.4 513.7,498.3 518.8,498.4C526.6,498.5 534.3,499.3 542.1,499.3C547.5,499.3 552.8,498.7 558.2,498.4C563.2,498.1 568.1,497.2 573.1,497.2C578.7,497.2 584.4,499.1 590.0,500.0C594.8,500.7 599.5,501.5 604.3,502.1C609.1,502.7 613.8,502.8 618.6,503.6C622.4,504.2 626.2,505.4 630.0,506.4C633.3,507.2 636.7,509.0 640.0,509.0C644.8,509.0 649.5,508.7 654.3,508.6C663.3,508.5 672.4,508.3 681.4,508.3 M424.3,550.2C427.1,549.0 430.0,546.8 432.8,544.6C435.7,542.3 438.6,539.1 441.5,536.0C443.8,533.5 446.2,530.6 448.5,528.0C450.8,525.4 453.2,523.0 455.5,520.5C457.3,518.6 459.0,516.7 460.8,515.0C462.5,513.4 464.3,511.9 466.0,510.5C467.8,509.1 469.5,507.7 471.3,506.5C473.0,505.4 474.8,504.3 476.5,503.5C479.0,502.4 481.5,501.2 484.0,500.7C486.8,500.1 489.5,499.6 492.3,499.3C496.0,498.9 499.8,498.5 503.5,498.4C508.6,498.3 513.7,498.1 518.8,498.2C526.6,498.3 534.3,499.0 542.1,499.0C547.5,499.0 552.8,498.3 558.2,498.0C563.2,497.7 568.1,497.4 573.1,497.6C578.7,497.8 584.4,499.7 590.0,500.6C594.8,501.4 599.5,502.1 604.3,502.7C609.1,503.3 613.8,503.6 618.6,504.3C621.7,504.8 624.9,505.9 628.0,507.0C630.6,507.9 633.1,509.7 635.7,511.4C638.6,513.3 641.4,515.8 644.3,518.6C646.7,520.9 649.0,524.1 651.4,527.1C653.8,530.2 656.2,534.3 658.6,537.1C661.0,539.9 663.3,542.6 665.7,544.3C668.1,546.1 670.5,547.9 672.9,548.6C675.7,549.4 678.6,550.1 681.4,550.0 M424.3,553.4C427.2,551.7 430.1,549.4 433.0,547.0C436.4,544.1 439.9,540.5 443.3,537.0C445.5,534.7 447.8,532.2 450.0,530.0C452.4,527.6 454.9,525.2 457.3,523.0C458.9,521.6 460.4,519.8 462.0,519.0C463.9,518.0 465.9,517.4 467.8,516.9C469.5,516.4 471.3,515.7 473.0,515.6C474.8,515.5 476.5,515.6 478.3,515.5C480.2,515.4 482.1,515.3 484.0,515.0C486.7,514.6 489.3,513.2 492.0,512.5C494.8,511.8 497.5,510.9 500.3,510.6C503.5,510.2 506.8,509.8 510.0,509.8C512.9,509.8 515.9,509.8 518.8,509.8C526.6,509.7 534.3,509.7 542.1,509.6C547.5,509.5 552.8,509.4 558.2,509.3C563.2,509.2 568.1,509.0 573.1,508.9C578.8,508.8 584.6,509.6 590.3,510.1C595.7,510.6 601.0,511.4 606.4,512.5C610.5,513.3 614.5,515.0 618.6,516.0C623.4,517.2 628.1,517.3 632.9,518.6C637.6,519.8 642.4,523.9 647.1,524.3C651.9,524.7 656.6,525.0 661.4,525.0C668.1,525.0 674.7,525.1 681.4,525.0 M424.3,525.2C430.0,525.4 435.8,525.4 441.5,525.2C445.3,525.1 449.1,524.6 452.9,523.9C454.9,523.5 457.0,522.6 459.0,522.1C461.3,521.5 463.7,521.0 466.0,520.4C468.3,519.8 470.7,519.2 473.0,518.6C475.3,518.0 477.7,517.3 480.0,516.9C481.3,516.7 482.7,516.5 484.0,516.5C486.0,516.5 488.0,516.6 490.0,516.8C493.3,517.2 496.7,518.0 500.0,518.5C503.3,519.0 506.7,519.7 510.0,520.0C512.9,520.2 515.9,520.4 518.8,520.5C526.6,520.8 534.3,520.8 542.1,521.3C547.5,521.6 552.8,522.9 558.2,523.4C563.2,523.8 568.1,524.2 573.1,524.0C578.8,523.8 584.6,522.4 590.3,522.1C595.0,521.8 599.6,522.4 604.3,522.9C609.1,523.4 613.8,525.2 618.6,527.1C623.4,529.0 628.1,532.6 632.9,535.7C637.6,538.8 642.4,543.2 647.1,545.7C651.9,548.2 656.6,550.1 661.4,551.4C668.1,553.2 674.7,555.1 681.4,555.7 M424.3,550.2C428.2,549.9 432.2,548.9 436.1,547.8C441.4,546.3 446.8,543.5 452.1,541.4C457.5,539.3 462.8,536.7 468.2,535.0C473.5,533.3 478.9,532.0 484.2,531.0C489.6,530.0 494.9,529.2 500.3,528.5C506.5,527.7 512.6,528.3 518.8,527.3C523.9,526.5 529.0,523.7 534.1,521.8C539.4,519.8 544.8,517.2 550.1,515.5C554.4,514.1 558.7,512.8 563.0,512.2C566.4,511.8 569.7,511.3 573.1,511.3C578.8,511.3 584.6,511.7 590.3,512.3C595.0,512.8 599.6,513.8 604.3,514.5C609.1,515.2 613.8,516.0 618.6,516.6C621.9,517.0 625.3,517.1 628.6,517.6C632.4,518.1 636.2,519.6 640.0,520.9C642.4,521.7 644.7,523.0 647.1,524.5C649.5,526.1 651.9,528.8 654.3,531.4C656.7,534.0 659.0,537.4 661.4,540.0C664.3,543.2 667.1,546.9 670.0,548.6C673.8,550.8 677.6,552.7 681.4,552.9 M424.3,555.8C428.2,555.8 432.2,555.1 436.1,554.2C441.4,553.0 446.8,550.2 452.1,547.8C457.5,545.4 462.8,542.0 468.2,539.8C473.5,537.6 478.9,535.7 484.2,534.2C489.6,532.6 494.9,531.0 500.3,530.1C506.5,529.0 512.6,529.8 518.8,528.5C521.2,528.0 523.7,526.9 526.1,526.1C531.4,524.3 536.8,521.9 542.1,520.5C547.5,519.1 552.8,517.8 558.2,517.3C563.2,516.8 568.1,516.4 573.1,516.5C578.8,516.6 584.6,517.4 590.3,518.1C595.0,518.7 599.6,519.7 604.3,520.7C609.1,521.7 613.8,522.7 618.6,524.3C623.4,525.9 628.1,529.0 632.9,531.4C637.6,533.8 642.4,536.2 647.1,538.6C651.9,541.0 656.6,543.3 661.4,545.7C664.3,547.1 667.1,548.6 670.0,550.0C673.8,551.9 677.6,553.8 681.4,555.7 M424.3,574.3C428.2,569.7 432.2,565.1 436.1,562.3C441.4,558.5 446.8,555.8 452.1,552.6C457.5,549.4 462.8,545.9 468.2,543.0C473.5,540.1 478.9,537.0 484.2,535.0C489.6,533.0 494.9,531.0 500.3,530.1C506.5,529.1 512.6,527.9 518.8,528.0C526.6,528.1 534.3,528.7 542.1,528.8C552.4,529.0 562.8,528.3 573.1,528.5C578.8,528.6 584.6,530.5 590.3,531.8C595.7,533.0 601.0,534.6 606.4,536.6C610.9,538.3 615.5,541.1 620.0,543.0C624.3,544.8 628.6,546.2 632.9,548.0C637.6,549.9 642.4,551.9 647.1,554.3C651.9,556.7 656.6,560.1 661.4,562.9C668.1,566.8 674.7,570.6 681.4,574.3 M424.3,574.3C428.2,571.0 432.2,567.8 436.1,565.5C441.4,562.4 446.8,560.1 452.1,557.4C457.5,554.7 462.8,552.1 468.2,549.4C473.5,546.7 478.9,543.9 484.2,541.4C489.6,538.9 494.9,535.8 500.3,534.2C506.5,532.3 512.6,530.4 518.8,530.1C526.6,529.8 534.3,529.4 542.1,529.5C552.4,529.7 562.8,529.9 573.1,530.1C578.8,530.2 584.6,530.3 590.3,530.3C595.0,530.3 599.6,530.1 604.3,530.0C609.1,529.9 613.8,530.7 618.6,531.4C623.4,532.1 628.1,534.8 632.9,537.0C637.6,539.2 642.4,542.2 647.1,545.0C651.9,547.8 656.6,550.8 661.4,554.0C664.9,556.4 668.5,558.8 672.0,562.0C675.1,564.8 678.3,569.6 681.4,574.3 M424.3,574.3C428.2,571.7 432.2,569.3 436.1,567.1C441.4,564.2 446.8,561.5 452.1,559.0C457.5,556.4 462.8,554.5 468.2,551.8C473.5,549.2 478.9,545.6 484.2,543.0C489.6,540.3 494.9,537.6 500.3,535.8C506.5,533.7 512.6,531.1 518.8,530.9C526.6,530.7 534.3,530.4 542.1,530.5C552.4,530.6 562.8,530.8 573.1,530.8C578.8,530.8 584.6,530.5 590.3,530.5C595.7,530.5 601.0,531.1 606.4,531.5C610.5,531.8 614.5,532.4 618.6,533.5C623.4,534.8 628.1,538.6 632.9,541.4C637.6,544.1 642.4,546.9 647.1,550.0C651.9,553.1 656.6,556.6 661.4,560.0C668.1,564.7 674.7,569.5 681.4,574.3" stroke="#000" stroke-opacity="0.13" stroke-width="2.60" fill="none" stroke-linejoin="round"/>
<path d="M424.3,348.8C430.9,348.7 437.5,349.2 444.1,350.0C449.4,350.7 454.8,352.3 460.1,353.7C465.5,355.1 470.8,357.0 476.2,358.5C481.6,360.0 486.9,361.5 492.3,362.5C496.6,363.3 500.8,364.1 505.1,364.4C509.7,364.7 514.2,364.9 518.8,365.1C526.6,365.4 534.3,365.8 542.1,366.1C552.4,366.5 562.8,366.9 573.1,366.9C578.8,366.9 584.6,366.2 590.3,365.6C595.7,365.1 601.0,364.2 606.4,363.3C612.0,362.4 617.6,361.1 623.2,359.8C628.5,358.5 633.9,356.9 639.2,355.5C644.6,354.1 649.9,352.6 655.3,351.6C660.7,350.6 666.0,349.7 671.4,349.3C674.6,349.1 677.8,348.8 681.0,348.8 M424.3,359.6C430.9,359.3 437.5,360.0 444.1,360.9C449.4,361.7 454.8,363.6 460.1,365.7C465.5,367.8 470.8,371.2 476.2,373.7C480.5,375.7 484.8,377.4 489.1,379.3C492.8,380.9 496.6,382.9 500.3,384.2C503.5,385.3 506.7,386.6 509.9,386.9C512.9,387.2 515.8,387.4 518.8,387.6C526.6,388.2 534.3,388.6 542.1,389.3C547.5,389.8 552.8,390.6 558.2,391.0C563.2,391.4 568.1,391.5 573.1,391.4C579.1,391.3 585.1,390.4 591.1,389.5C596.4,388.7 601.8,387.0 607.1,385.0C612.5,383.0 617.8,379.7 623.2,376.9C628.5,374.1 633.9,370.6 639.2,368.1C644.6,365.6 649.9,362.7 655.3,361.7C660.7,360.7 666.0,359.9 671.4,359.6C674.6,359.4 677.8,359.3 681.0,359.3 M424.3,392.2C429.3,392.5 434.3,392.3 439.3,391.4C443.6,390.6 447.8,388.8 452.1,387.4C457.5,385.6 462.8,383.7 468.2,381.8C472.5,380.3 476.7,378.8 481.0,377.3C484.8,376.0 488.5,374.5 492.3,373.4C496.6,372.2 500.8,370.9 505.1,370.5C509.7,370.1 514.2,369.8 518.8,369.9C526.6,370.1 534.3,370.7 542.1,371.5C547.5,372.0 552.8,373.4 558.2,373.9C563.2,374.3 568.1,374.8 573.1,374.7C579.1,374.6 585.1,373.9 591.1,373.8C596.4,373.7 601.8,374.3 607.1,374.8C612.5,375.3 617.8,376.8 623.2,378.3C628.5,379.8 633.9,382.1 639.2,384.0C644.6,385.9 649.9,388.2 655.3,389.6C658.5,390.4 661.7,391.2 664.9,391.5C670.3,392.0 675.6,392.3 681.0,392.2 M424.3,392.2C429.3,392.5 434.3,392.4 439.3,391.6C443.6,390.9 447.8,389.3 452.1,387.9C457.5,386.2 462.8,384.3 468.2,382.4C472.5,380.9 476.7,379.4 481.0,377.9C484.8,376.6 488.5,375.0 492.3,374.0C496.6,372.8 500.8,371.6 505.1,371.2C509.7,370.8 514.2,370.5 518.8,370.6C526.6,370.8 534.3,371.4 542.1,372.2C547.5,372.7 552.8,374.2 558.2,374.6C563.2,375.0 568.1,375.4 573.1,375.3C579.1,375.2 585.1,374.5 591.1,374.4C596.4,374.3 601.8,374.9 607.1,375.4C612.5,375.9 617.8,377.4 623.2,378.9C628.5,380.4 633.9,382.7 639.2,384.5C644.6,386.4 649.9,388.6 655.3,390.0C658.5,390.8 661.7,391.5 664.9,391.8C670.3,392.2 675.6,392.4 681.0,392.2 M424.3,392.2C433.6,391.7 442.8,391.1 452.1,390.6C462.8,390.0 473.5,389.1 484.2,388.7C495.7,388.2 507.3,388.0 518.8,387.7C523.9,387.6 529.0,387.5 534.1,387.3C539.4,387.0 544.8,384.2 550.1,382.9C554.4,381.9 558.7,380.8 563.0,380.2C566.4,379.8 569.7,379.4 573.1,379.4C577.8,379.4 582.4,380.0 587.1,380.8C588.4,381.0 589.8,381.5 591.1,381.8C596.4,383.0 601.8,383.9 607.1,385.0C612.5,386.1 617.8,387.3 623.2,388.2C628.5,389.1 633.9,390.2 639.2,390.6C653.1,391.7 667.1,392.4 681.0,392.2 M452.1,390.6C462.8,390.0 473.5,389.2 484.2,388.7C495.7,388.1 507.3,387.6 518.8,387.7C526.6,387.8 534.3,388.6 542.1,389.3M573.1,391.4C578.8,391.3 584.6,390.4 590.3,389.3C594.6,388.5 598.8,386.8 603.1,385.3C608.7,383.4 614.4,380.8 620.0,378.9C622.7,378.0 625.3,377.2 628.0,376.5 M424.3,439.8C430.9,439.0 437.5,438.0 444.1,437.0C452.1,435.7 460.2,434.0 468.2,432.7C476.2,431.4 484.3,429.9 492.3,429.0C497.6,428.4 503.0,427.9 508.3,427.6C511.8,427.4 515.3,427.3 518.8,427.3C526.6,427.3 534.3,428.4 542.1,429.6C547.5,430.4 552.8,432.6 558.2,433.7C563.2,434.7 568.1,436.3 573.1,436.1C579.1,435.9 585.1,433.4 591.1,432.8C596.4,432.2 601.8,431.7 607.1,431.6C612.5,431.5 617.8,431.6 623.2,432.0C628.5,432.4 633.9,433.6 639.2,434.5C644.6,435.4 649.9,436.6 655.3,437.3C663.9,438.5 672.4,439.6 681.0,440.1 M424.3,440.3C430.9,441.3 437.5,442.1 444.1,442.7C449.4,443.2 454.8,443.8 460.1,443.5C465.5,443.2 470.8,441.4 476.2,440.3C481.6,439.2 486.9,437.9 492.3,437.0C497.6,436.2 503.0,435.1 508.3,435.1C511.8,435.1 515.3,435.1 518.8,435.1C526.6,435.2 534.3,435.2 542.1,435.3C552.4,435.4 562.8,435.7 573.1,436.1C578.8,436.3 584.6,436.8 590.3,437.3C595.7,437.8 601.0,438.7 606.4,439.3C612.0,439.9 617.6,440.5 623.2,441.0C628.5,441.5 633.9,442.0 639.2,442.5C644.6,443.0 649.9,443.5 655.3,444.1C663.9,445.0 672.4,446.1 681.0,447.3 M424.3,441.1C430.9,442.1 437.5,443.1 444.1,444.0C449.4,444.7 454.8,445.4 460.1,445.9C465.5,446.4 470.8,446.9 476.2,446.7C481.6,446.5 486.9,445.5 492.3,445.1C501.1,444.4 510.0,444.2 518.8,443.5C526.6,442.9 534.3,442.0 542.1,440.9C547.5,440.1 552.8,438.5 558.2,437.7C563.2,437.0 568.1,436.2 573.1,436.1C579.1,435.9 585.1,436.0 591.1,436.1C596.4,436.2 601.8,436.5 607.1,437.0C612.5,437.5 617.8,439.2 623.2,440.1C628.5,441.0 633.9,442.4 639.2,442.5C644.6,442.6 649.9,442.3 655.3,442.0C663.9,441.6 672.4,441.1 681.0,440.5 M424.3,441.1C433.3,442.8 442.4,444.5 451.4,445.9C457.0,446.8 462.6,447.8 468.2,448.3C472.5,448.7 476.7,449.0 481.0,448.8C484.8,448.6 488.5,448.0 492.3,447.5C497.6,446.8 503.0,445.6 508.3,445.1C511.8,444.7 515.3,444.6 518.8,444.3C523.9,443.9 528.9,443.6 534.0,443.0C539.3,442.4 544.7,440.4 550.0,439.5C557.7,438.1 565.4,436.1 573.1,436.3C579.1,436.4 585.1,437.7 591.1,438.5C596.4,439.2 601.8,440.1 607.1,440.9C612.5,441.7 617.8,442.6 623.2,443.3C628.5,443.9 633.9,444.5 639.2,444.9C644.6,445.3 649.9,445.7 655.3,446.0C663.9,446.5 672.4,447.0 681.0,447.3 M424.3,447.5C430.9,447.3 437.5,446.8 444.1,446.2C449.4,445.7 454.8,444.8 460.1,444.3C465.5,443.8 470.8,443.1 476.2,443.0C481.6,442.9 486.9,442.8 492.3,442.7C501.1,442.6 510.0,442.4 518.8,442.3C523.9,442.3 528.9,442.9 534.0,443.5C539.4,444.2 544.7,446.6 550.1,447.3C555.5,448.0 560.8,448.5 566.2,448.6C568.5,448.6 570.8,448.6 573.1,448.6C578.8,448.5 584.6,448.1 590.3,448.1C595.9,448.1 601.5,448.7 607.1,448.9C615.1,449.2 623.2,449.1 631.2,448.9C636.6,448.7 641.9,447.5 647.3,446.5C652.6,445.5 658.0,443.4 663.3,442.5C669.2,441.5 675.1,440.7 681.0,440.5 M424.3,447.5C433.3,447.4 442.4,447.0 451.4,446.7C462.3,446.3 473.3,445.4 484.2,445.1C495.7,444.8 507.3,444.6 518.8,444.6C523.9,444.6 529.0,444.8 534.1,444.9C539.4,445.0 544.8,444.5 550.1,444.0C557.8,443.2 565.4,437.9 573.1,437.0C578.8,436.3 584.6,435.6 590.3,435.8C595.7,435.9 601.0,436.2 606.4,436.5C612.0,436.8 617.6,437.2 623.2,437.5C628.5,437.8 633.9,438.2 639.2,438.5C644.6,438.8 649.9,439.1 655.3,439.3C663.9,439.6 672.4,439.9 681.0,440.1 M424.3,507.9C430.0,508.1 435.8,508.4 441.5,508.6C447.3,508.8 453.2,509.3 459.0,509.4C461.3,509.5 463.7,508.7 466.0,508.1C468.1,507.6 470.1,506.7 472.2,505.9C474.2,505.1 476.3,504.1 478.3,503.3C480.2,502.5 482.1,501.6 484.0,501.1C486.8,500.4 489.5,499.9 492.3,499.6C496.0,499.2 499.8,498.7 503.5,498.6C508.6,498.4 513.7,498.3 518.8,498.4C526.6,498.5 534.3,499.3 542.1,499.3C547.5,499.3 552.8,498.7 558.2,498.4C563.2,498.1 568.1,497.2 573.1,497.2C578.7,497.2 584.4,499.1 590.0,500.0C594.8,500.7 599.5,501.5 604.3,502.1C609.1,502.7 613.8,502.8 618.6,503.6C622.4,504.2 626.2,505.4 630.0,506.4C633.3,507.2 636.7,509.0 640.0,509.0C644.8,509.0 649.5,508.7 654.3,508.6C663.3,508.5 672.4,508.3 681.4,508.3 M424.3,550.2C427.1,549.0 430.0,546.8 432.8,544.6C435.7,542.3 438.6,539.1 441.5,536.0C443.8,533.5 446.2,530.6 448.5,528.0C450.8,525.4 453.2,523.0 455.5,520.5C457.3,518.6 459.0,516.7 460.8,515.0C462.5,513.4 464.3,511.9 466.0,510.5C467.8,509.1 469.5,507.7 471.3,506.5C473.0,505.4 474.8,504.3 476.5,503.5C479.0,502.4 481.5,501.2 484.0,500.7C486.8,500.1 489.5,499.6 492.3,499.3C496.0,498.9 499.8,498.5 503.5,498.4C508.6,498.3 513.7,498.1 518.8,498.2C526.6,498.3 534.3,499.0 542.1,499.0C547.5,499.0 552.8,498.3 558.2,498.0C563.2,497.7 568.1,497.4 573.1,497.6C578.7,497.8 584.4,499.7 590.0,500.6C594.8,501.4 599.5,502.1 604.3,502.7C609.1,503.3 613.8,503.6 618.6,504.3C621.7,504.8 624.9,505.9 628.0,507.0C630.6,507.9 633.1,509.7 635.7,511.4C638.6,513.3 641.4,515.8 644.3,518.6C646.7,520.9 649.0,524.1 651.4,527.1C653.8,530.2 656.2,534.3 658.6,537.1C661.0,539.9 663.3,542.6 665.7,544.3C668.1,546.1 670.5,547.9 672.9,548.6C675.7,549.4 678.6,550.1 681.4,550.0 M424.3,553.4C427.2,551.7 430.1,549.4 433.0,547.0C436.4,544.1 439.9,540.5 443.3,537.0C445.5,534.7 447.8,532.2 450.0,530.0C452.4,527.6 454.9,525.2 457.3,523.0C458.9,521.6 460.4,519.8 462.0,519.0C463.9,518.0 465.9,517.4 467.8,516.9C469.5,516.4 471.3,515.7 473.0,515.6C474.8,515.5 476.5,515.6 478.3,515.5C480.2,515.4 482.1,515.3 484.0,515.0C486.7,514.6 489.3,513.2 492.0,512.5C494.8,511.8 497.5,510.9 500.3,510.6C503.5,510.2 506.8,509.8 510.0,509.8C512.9,509.8 515.9,509.8 518.8,509.8C526.6,509.7 534.3,509.7 542.1,509.6C547.5,509.5 552.8,509.4 558.2,509.3C563.2,509.2 568.1,509.0 573.1,508.9C578.8,508.8 584.6,509.6 590.3,510.1C595.7,510.6 601.0,511.4 606.4,512.5C610.5,513.3 614.5,515.0 618.6,516.0C623.4,517.2 628.1,517.3 632.9,518.6C637.6,519.8 642.4,523.9 647.1,524.3C651.9,524.7 656.6,525.0 661.4,525.0C668.1,525.0 674.7,525.1 681.4,525.0 M424.3,525.2C430.0,525.4 435.8,525.4 441.5,525.2C445.3,525.1 449.1,524.6 452.9,523.9C454.9,523.5 457.0,522.6 459.0,522.1C461.3,521.5 463.7,521.0 466.0,520.4C468.3,519.8 470.7,519.2 473.0,518.6C475.3,518.0 477.7,517.3 480.0,516.9C481.3,516.7 482.7,516.5 484.0,516.5C486.0,516.5 488.0,516.6 490.0,516.8C493.3,517.2 496.7,518.0 500.0,518.5C503.3,519.0 506.7,519.7 510.0,520.0C512.9,520.2 515.9,520.4 518.8,520.5C526.6,520.8 534.3,520.8 542.1,521.3C547.5,521.6 552.8,522.9 558.2,523.4C563.2,523.8 568.1,524.2 573.1,524.0C578.8,523.8 584.6,522.4 590.3,522.1C595.0,521.8 599.6,522.4 604.3,522.9C609.1,523.4 613.8,525.2 618.6,527.1C623.4,529.0 628.1,532.6 632.9,535.7C637.6,538.8 642.4,543.2 647.1,545.7C651.9,548.2 656.6,550.1 661.4,551.4C668.1,553.2 674.7,555.1 681.4,555.7 M424.3,550.2C428.2,549.9 432.2,548.9 436.1,547.8C441.4,546.3 446.8,543.5 452.1,541.4C457.5,539.3 462.8,536.7 468.2,535.0C473.5,533.3 478.9,532.0 484.2,531.0C489.6,530.0 494.9,529.2 500.3,528.5C506.5,527.7 512.6,528.3 518.8,527.3C523.9,526.5 529.0,523.7 534.1,521.8C539.4,519.8 544.8,517.2 550.1,515.5C554.4,514.1 558.7,512.8 563.0,512.2C566.4,511.8 569.7,511.3 573.1,511.3C578.8,511.3 584.6,511.7 590.3,512.3C595.0,512.8 599.6,513.8 604.3,514.5C609.1,515.2 613.8,516.0 618.6,516.6C621.9,517.0 625.3,517.1 628.6,517.6C632.4,518.1 636.2,519.6 640.0,520.9C642.4,521.7 644.7,523.0 647.1,524.5C649.5,526.1 651.9,528.8 654.3,531.4C656.7,534.0 659.0,537.4 661.4,540.0C664.3,543.2 667.1,546.9 670.0,548.6C673.8,550.8 677.6,552.7 681.4,552.9 M424.3,555.8C428.2,555.8 432.2,555.1 436.1,554.2C441.4,553.0 446.8,550.2 452.1,547.8C457.5,545.4 462.8,542.0 468.2,539.8C473.5,537.6 478.9,535.7 484.2,534.2C489.6,532.6 494.9,531.0 500.3,530.1C506.5,529.0 512.6,529.8 518.8,528.5C521.2,528.0 523.7,526.9 526.1,526.1C531.4,524.3 536.8,521.9 542.1,520.5C547.5,519.1 552.8,517.8 558.2,517.3C563.2,516.8 568.1,516.4 573.1,516.5C578.8,516.6 584.6,517.4 590.3,518.1C595.0,518.7 599.6,519.7 604.3,520.7C609.1,521.7 613.8,522.7 618.6,524.3C623.4,525.9 628.1,529.0 632.9,531.4C637.6,533.8 642.4,536.2 647.1,538.6C651.9,541.0 656.6,543.3 661.4,545.7C664.3,547.1 667.1,548.6 670.0,550.0C673.8,551.9 677.6,553.8 681.4,555.7 M424.3,574.3C428.2,569.7 432.2,565.1 436.1,562.3C441.4,558.5 446.8,555.8 452.1,552.6C457.5,549.4 462.8,545.9 468.2,543.0C473.5,540.1 478.9,537.0 484.2,535.0C489.6,533.0 494.9,531.0 500.3,530.1C506.5,529.1 512.6,527.9 518.8,528.0C526.6,528.1 534.3,528.7 542.1,528.8C552.4,529.0 562.8,528.3 573.1,528.5C578.8,528.6 584.6,530.5 590.3,531.8C595.7,533.0 601.0,534.6 606.4,536.6C610.9,538.3 615.5,541.1 620.0,543.0C624.3,544.8 628.6,546.2 632.9,548.0C637.6,549.9 642.4,551.9 647.1,554.3C651.9,556.7 656.6,560.1 661.4,562.9C668.1,566.8 674.7,570.6 681.4,574.3 M424.3,574.3C428.2,571.0 432.2,567.8 436.1,565.5C441.4,562.4 446.8,560.1 452.1,557.4C457.5,554.7 462.8,552.1 468.2,549.4C473.5,546.7 478.9,543.9 484.2,541.4C489.6,538.9 494.9,535.8 500.3,534.2C506.5,532.3 512.6,530.4 518.8,530.1C526.6,529.8 534.3,529.4 542.1,529.5C552.4,529.7 562.8,529.9 573.1,530.1C578.8,530.2 584.6,530.3 590.3,530.3C595.0,530.3 599.6,530.1 604.3,530.0C609.1,529.9 613.8,530.7 618.6,531.4C623.4,532.1 628.1,534.8 632.9,537.0C637.6,539.2 642.4,542.2 647.1,545.0C651.9,547.8 656.6,550.8 661.4,554.0C664.9,556.4 668.5,558.8 672.0,562.0C675.1,564.8 678.3,569.6 681.4,574.3 M424.3,574.3C428.2,571.7 432.2,569.3 436.1,567.1C441.4,564.2 446.8,561.5 452.1,559.0C457.5,556.4 462.8,554.5 468.2,551.8C473.5,549.2 478.9,545.6 484.2,543.0C489.6,540.3 494.9,537.6 500.3,535.8C506.5,533.7 512.6,531.1 518.8,530.9C526.6,530.7 534.3,530.4 542.1,530.5C552.4,530.6 562.8,530.8 573.1,530.8C578.8,530.8 584.6,530.5 590.3,530.5C595.7,530.5 601.0,531.1 606.4,531.5C610.5,531.8 614.5,532.4 618.6,533.5C623.4,534.8 628.1,538.6 632.9,541.4C637.6,544.1 642.4,546.9 647.1,550.0C651.9,553.1 656.6,556.6 661.4,560.0C668.1,564.7 674.7,569.5 681.4,574.3" stroke="#161616" stroke-width="1.35" fill="none" stroke-linejoin="round"/>
<path d="M424.2,574.3h5.6M682,574.3h-5.6M424.2,553.3h2.6M682,553.3h-2.6M424.2,532.3h5.6M682,532.3h-5.6M424.2,511.2h2.6M682,511.2h-2.6M424.2,490.2h5.6M682,490.2h-5.6M424.2,469.2h2.6M682,469.2h-2.6M424.2,448.2h5.6M682,448.2h-5.6M424.2,427.2h2.6M682,427.2h-2.6M424.2,406.2h5.6M682,406.2h-5.6M424.2,385.1h2.6M682,385.1h-2.6M424.2,364.1h5.6M682,364.1h-5.6M424.2,343.1h2.6M682,343.1h-2.6" stroke="#222" stroke-width="1.3" fill="none"/>
<rect x="424.2" y="322.1" width="257.8" height="273.29999999999995" stroke="#222" stroke-width="1.7" fill="none"/>
<text transform="translate(416.2,579.4) scale(1,1.12)" class="tl">0</text>
<text transform="translate(416.2,537.4) scale(1,1.12)" class="tl">5</text>
<text transform="translate(416.2,495.3) scale(1,1.12)" class="tl">10</text>
<text transform="translate(416.2,453.3) scale(1,1.12)" class="tl">15</text>
<text transform="translate(416.2,411.3) scale(1,1.12)" class="tl">20</text>
<text transform="translate(416.2,369.2) scale(1,1.12)" class="tl">25</text>
<text transform="translate(416.2,327.2) scale(1,1.12)" class="tl">30</text>
<text x="423.7" y="615.0" class="xl">Γ</text>
<text x="518.8" y="615.0" class="xl" text-anchor="middle">M</text>
<text x="575.1999999999999" y="615.0" class="xl" text-anchor="middle">K</text>
<text x="682.5" y="615.0" class="xl" text-anchor="end">Γ</text>
<text x="430.4" y="339.1" class="pl">(d)</text>
<text x="676" y="339" class="ml" text-anchor="end">WGe<tspan class="sub" dy="1">2</tspan><tspan dy="-1">N</tspan><tspan class="sub" dy="1">4</tspan></text>
<text class="yl" transform="translate(373.6,457.1) rotate(-90) scale(1.0,1)" text-anchor="middle">Frequency (THz)</text>
</g>
</svg>
</body></html>
